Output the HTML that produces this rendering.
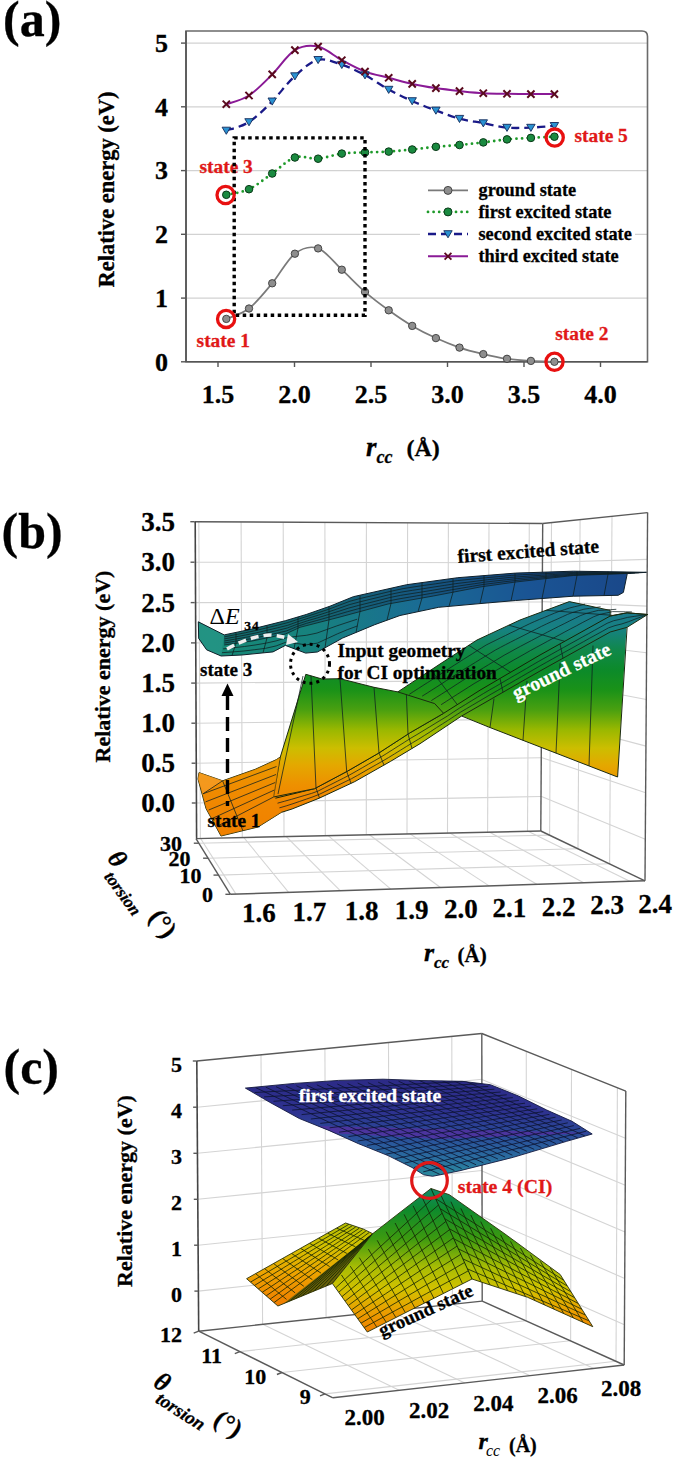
<!DOCTYPE html>
<html><head><meta charset="utf-8"><style>
html,body{margin:0;padding:0;background:#fff;}
svg{display:block;}
text{paint-order:stroke;}
</style></head><body>
<svg width="675" height="1461" viewBox="0 0 675 1461">
<rect width="675" height="1461" fill="#fff"/>
<g id="pa">
<text x="3" y="36" font-family="Liberation Serif" font-weight="bold" font-size="50" stroke="#000" stroke-width="0.3">(a)</text>
<line x1="187" y1="298.1" x2="647" y2="298.1" stroke="#d2d2d2" stroke-width="1.3"/>
<line x1="187" y1="234.3" x2="647" y2="234.3" stroke="#d2d2d2" stroke-width="1.3"/>
<line x1="187" y1="170.6" x2="647" y2="170.6" stroke="#d2d2d2" stroke-width="1.3"/>
<line x1="187" y1="106.8" x2="647" y2="106.8" stroke="#d2d2d2" stroke-width="1.3"/>
<line x1="187" y1="43.1" x2="647" y2="43.1" stroke="#d2d2d2" stroke-width="1.3"/>
<path d="M186,361.8 L186,31 L642,31 Q647.5,31 647.5,36.5 L647.5,361.8 Z" fill="none" stroke="#6a6a6a" stroke-width="1.6"/>
<line x1="186" y1="31" x2="186" y2="362" stroke="#555" stroke-width="1.6"/>
<line x1="186" y1="361.8" x2="647.5" y2="361.8" stroke="#555" stroke-width="1.6"/>
<line x1="181" y1="361.8" x2="186" y2="361.8" stroke="#555" stroke-width="1.4"/>
<text x="168" y="370.6" font-family="Liberation Serif" font-weight="bold" font-size="26" text-anchor="end" stroke="#000" stroke-width="0.3">0</text>
<line x1="181" y1="298.1" x2="186" y2="298.1" stroke="#555" stroke-width="1.4"/>
<text x="168" y="306.9" font-family="Liberation Serif" font-weight="bold" font-size="26" text-anchor="end" stroke="#000" stroke-width="0.3">1</text>
<line x1="181" y1="234.3" x2="186" y2="234.3" stroke="#555" stroke-width="1.4"/>
<text x="168" y="243.1" font-family="Liberation Serif" font-weight="bold" font-size="26" text-anchor="end" stroke="#000" stroke-width="0.3">2</text>
<line x1="181" y1="170.6" x2="186" y2="170.6" stroke="#555" stroke-width="1.4"/>
<text x="168" y="179.4" font-family="Liberation Serif" font-weight="bold" font-size="26" text-anchor="end" stroke="#000" stroke-width="0.3">3</text>
<line x1="181" y1="106.8" x2="186" y2="106.8" stroke="#555" stroke-width="1.4"/>
<text x="168" y="115.6" font-family="Liberation Serif" font-weight="bold" font-size="26" text-anchor="end" stroke="#000" stroke-width="0.3">4</text>
<line x1="181" y1="43.1" x2="186" y2="43.1" stroke="#555" stroke-width="1.4"/>
<text x="168" y="51.9" font-family="Liberation Serif" font-weight="bold" font-size="26" text-anchor="end" stroke="#000" stroke-width="0.3">5</text>
<line x1="218.0" y1="362" x2="218.0" y2="367" stroke="#555" stroke-width="1.4"/>
<text x="218.0" y="403" font-family="Liberation Serif" font-weight="bold" font-size="26" text-anchor="middle" stroke="#000" stroke-width="0.3">1.5</text>
<line x1="294.5" y1="362" x2="294.5" y2="367" stroke="#555" stroke-width="1.4"/>
<text x="294.5" y="403" font-family="Liberation Serif" font-weight="bold" font-size="26" text-anchor="middle" stroke="#000" stroke-width="0.3">2.0</text>
<line x1="371.0" y1="362" x2="371.0" y2="367" stroke="#555" stroke-width="1.4"/>
<text x="371.0" y="403" font-family="Liberation Serif" font-weight="bold" font-size="26" text-anchor="middle" stroke="#000" stroke-width="0.3">2.5</text>
<line x1="447.5" y1="362" x2="447.5" y2="367" stroke="#555" stroke-width="1.4"/>
<text x="447.5" y="403" font-family="Liberation Serif" font-weight="bold" font-size="26" text-anchor="middle" stroke="#000" stroke-width="0.3">3.0</text>
<line x1="524.0" y1="362" x2="524.0" y2="367" stroke="#555" stroke-width="1.4"/>
<text x="524.0" y="403" font-family="Liberation Serif" font-weight="bold" font-size="26" text-anchor="middle" stroke="#000" stroke-width="0.3">3.5</text>
<line x1="600.5" y1="362" x2="600.5" y2="367" stroke="#555" stroke-width="1.4"/>
<text x="600.5" y="403" font-family="Liberation Serif" font-weight="bold" font-size="26" text-anchor="middle" stroke="#000" stroke-width="0.3">4.0</text>
<text transform="translate(114,189.5) rotate(-90)" font-family="Liberation Serif" font-weight="bold" font-size="22.5" text-anchor="middle" stroke="#000" stroke-width="0.3">Relative energy (eV)</text>
<text x="366" y="455.5" font-family="Liberation Serif" font-weight="bold" font-style="italic" font-size="27" stroke="#000" stroke-width="0.3">r</text>
<text x="376.5" y="463" font-family="Liberation Serif" font-weight="bold" font-style="italic" font-size="18" stroke="#000" stroke-width="0.3">cc</text>
<text x="406.5" y="455.5" font-family="Liberation Serif" font-weight="bold" font-size="24" stroke="#000" stroke-width="0.3">(Å)</text>
<text x="199.5" y="172.5" font-family="Liberation Serif" font-weight="bold" font-size="19.4" fill="#e01818" stroke="#e01818" stroke-width="0.3">state 3</text>
<path d="M226.3,318.9 C230.1,317.2 241.3,314.4 249.0,308.5 C256.6,302.6 264.6,292.4 272.2,283.3 C279.8,274.2 287.2,259.5 294.9,253.7 C302.5,247.9 310.3,245.7 318.1,248.4 C325.9,251.1 334.0,262.4 341.8,269.7 C349.6,276.9 357.2,285.1 365.0,291.9 C372.8,298.7 380.8,304.6 388.7,310.3 C396.6,316.0 404.3,321.3 412.2,325.9 C420.1,330.5 428.0,334.5 435.9,338.1 C443.8,341.7 451.6,344.9 459.5,347.6 C467.4,350.3 475.4,352.2 483.3,354.1 C491.2,356.0 499.1,357.7 507.0,358.8 C514.9,359.9 523.0,360.4 530.9,360.9 C538.8,361.4 550.5,361.6 554.4,361.8" fill="none" stroke="#7a7a7a" stroke-width="1.7"/>
<path d="M226.3,194.8 C230.1,193.9 241.3,192.8 249.0,189.2 C256.6,185.6 264.6,178.8 272.2,173.5 C279.8,168.2 287.2,160.0 294.9,157.5 C302.5,155.0 310.3,159.3 318.1,158.7 C325.9,158.0 334.0,154.6 341.8,153.6 C349.6,152.6 357.2,152.7 365.0,152.4 C372.8,152.1 380.8,152.1 388.7,151.6 C396.6,151.1 404.3,150.3 412.2,149.5 C420.1,148.7 428.0,147.6 435.9,146.8 C443.8,146.1 451.6,145.7 459.5,145.0 C467.4,144.3 475.4,143.3 483.3,142.4 C491.2,141.5 499.1,140.2 507.0,139.4 C514.9,138.7 523.0,138.4 530.9,137.9 C538.8,137.4 550.5,136.9 554.4,136.7" fill="none" stroke="#1e9a2a" stroke-width="2.8" stroke-dasharray="0,5.6" stroke-linecap="round"/>
<path d="M226.3,130.5 C230.1,129.1 241.3,126.9 249.0,122.0 C256.6,117.1 264.6,109.0 272.2,101.3 C279.8,93.6 287.2,83.0 294.9,76.1 C302.5,69.2 310.3,61.7 318.1,59.8 C325.9,57.9 334.0,62.2 341.8,64.7 C349.6,67.2 357.2,70.9 365.0,75.1 C372.8,79.2 380.8,85.3 388.7,89.6 C396.6,93.9 404.3,97.5 412.2,101.0 C420.1,104.5 428.0,107.5 435.9,110.4 C443.8,113.4 451.6,116.6 459.5,118.7 C467.4,120.8 475.4,121.6 483.3,123.1 C491.2,124.6 499.1,126.8 507.0,127.6 C514.9,128.3 523.0,127.9 530.9,127.6 C538.8,127.3 550.5,126.1 554.4,125.8" fill="none" stroke="#1a1a88" stroke-width="2.3" stroke-dasharray="8,5"/>
<path d="M226.3,104.2 C230.1,102.8 241.3,100.5 249.0,95.5 C256.6,90.5 264.6,82.0 272.2,74.4 C279.8,66.8 287.2,54.7 294.9,50.1 C302.5,45.5 310.3,44.9 318.1,46.6 C325.9,48.3 334.0,56.0 341.8,60.2 C349.6,64.4 357.2,68.7 365.0,71.6 C372.8,74.5 380.8,75.8 388.7,77.8 C396.6,79.8 404.3,82.2 412.2,83.9 C420.1,85.6 428.0,86.9 435.9,88.1 C443.8,89.3 451.6,90.2 459.5,91.1 C467.4,91.9 475.4,92.8 483.3,93.2 C491.2,93.7 499.1,93.7 507.0,93.8 C514.9,93.9 523.0,94.0 530.9,94.1 C538.8,94.1 550.5,94.1 554.4,94.1" fill="none" stroke="#8a1a96" stroke-width="2"/>
<circle cx="226.3" cy="318.9" r="3.7" fill="#8e8e8e" stroke="#3a3a3a" stroke-width="0.9"/>
<circle cx="249.0" cy="308.5" r="3.7" fill="#8e8e8e" stroke="#3a3a3a" stroke-width="0.9"/>
<circle cx="272.2" cy="283.3" r="3.7" fill="#8e8e8e" stroke="#3a3a3a" stroke-width="0.9"/>
<circle cx="294.9" cy="253.7" r="3.7" fill="#8e8e8e" stroke="#3a3a3a" stroke-width="0.9"/>
<circle cx="318.1" cy="248.4" r="3.7" fill="#8e8e8e" stroke="#3a3a3a" stroke-width="0.9"/>
<circle cx="341.8" cy="269.7" r="3.7" fill="#8e8e8e" stroke="#3a3a3a" stroke-width="0.9"/>
<circle cx="365.0" cy="291.9" r="3.7" fill="#8e8e8e" stroke="#3a3a3a" stroke-width="0.9"/>
<circle cx="388.7" cy="310.3" r="3.7" fill="#8e8e8e" stroke="#3a3a3a" stroke-width="0.9"/>
<circle cx="412.2" cy="325.9" r="3.7" fill="#8e8e8e" stroke="#3a3a3a" stroke-width="0.9"/>
<circle cx="435.9" cy="338.1" r="3.7" fill="#8e8e8e" stroke="#3a3a3a" stroke-width="0.9"/>
<circle cx="459.5" cy="347.6" r="3.7" fill="#8e8e8e" stroke="#3a3a3a" stroke-width="0.9"/>
<circle cx="483.3" cy="354.1" r="3.7" fill="#8e8e8e" stroke="#3a3a3a" stroke-width="0.9"/>
<circle cx="507.0" cy="358.8" r="3.7" fill="#8e8e8e" stroke="#3a3a3a" stroke-width="0.9"/>
<circle cx="530.9" cy="360.9" r="3.7" fill="#8e8e8e" stroke="#3a3a3a" stroke-width="0.9"/>
<circle cx="554.4" cy="361.8" r="3.7" fill="#8e8e8e" stroke="#3a3a3a" stroke-width="0.9"/>
<circle cx="226.3" cy="194.8" r="3.8" fill="#1a8a40" stroke="#0a3a18" stroke-width="1"/>
<circle cx="249.0" cy="189.2" r="3.8" fill="#1a8a40" stroke="#0a3a18" stroke-width="1"/>
<circle cx="272.2" cy="173.5" r="3.8" fill="#1a8a40" stroke="#0a3a18" stroke-width="1"/>
<circle cx="294.9" cy="157.5" r="3.8" fill="#1a8a40" stroke="#0a3a18" stroke-width="1"/>
<circle cx="318.1" cy="158.7" r="3.8" fill="#1a8a40" stroke="#0a3a18" stroke-width="1"/>
<circle cx="341.8" cy="153.6" r="3.8" fill="#1a8a40" stroke="#0a3a18" stroke-width="1"/>
<circle cx="365.0" cy="152.4" r="3.8" fill="#1a8a40" stroke="#0a3a18" stroke-width="1"/>
<circle cx="388.7" cy="151.6" r="3.8" fill="#1a8a40" stroke="#0a3a18" stroke-width="1"/>
<circle cx="412.2" cy="149.5" r="3.8" fill="#1a8a40" stroke="#0a3a18" stroke-width="1"/>
<circle cx="435.9" cy="146.8" r="3.8" fill="#1a8a40" stroke="#0a3a18" stroke-width="1"/>
<circle cx="459.5" cy="145.0" r="3.8" fill="#1a8a40" stroke="#0a3a18" stroke-width="1"/>
<circle cx="483.3" cy="142.4" r="3.8" fill="#1a8a40" stroke="#0a3a18" stroke-width="1"/>
<circle cx="507.0" cy="139.4" r="3.8" fill="#1a8a40" stroke="#0a3a18" stroke-width="1"/>
<circle cx="530.9" cy="137.9" r="3.8" fill="#1a8a40" stroke="#0a3a18" stroke-width="1"/>
<circle cx="554.4" cy="136.7" r="3.8" fill="#1a8a40" stroke="#0a3a18" stroke-width="1"/>
<path d="M222.1,127.2 L230.5,127.2 L226.3,134.3 Z" fill="#2a92d2" stroke="#142a5a" stroke-width="0.9"/>
<path d="M244.8,118.7 L253.2,118.7 L249.0,125.8 Z" fill="#2a92d2" stroke="#142a5a" stroke-width="0.9"/>
<path d="M268.0,98.0 L276.4,98.0 L272.2,105.1 Z" fill="#2a92d2" stroke="#142a5a" stroke-width="0.9"/>
<path d="M290.7,72.8 L299.1,72.8 L294.9,79.9 Z" fill="#2a92d2" stroke="#142a5a" stroke-width="0.9"/>
<path d="M313.9,56.5 L322.3,56.5 L318.1,63.6 Z" fill="#2a92d2" stroke="#142a5a" stroke-width="0.9"/>
<path d="M337.6,61.4 L346.0,61.4 L341.8,68.5 Z" fill="#2a92d2" stroke="#142a5a" stroke-width="0.9"/>
<path d="M360.8,71.8 L369.2,71.8 L365.0,78.9 Z" fill="#2a92d2" stroke="#142a5a" stroke-width="0.9"/>
<path d="M384.5,86.3 L392.9,86.3 L388.7,93.4 Z" fill="#2a92d2" stroke="#142a5a" stroke-width="0.9"/>
<path d="M408.0,97.7 L416.4,97.7 L412.2,104.8 Z" fill="#2a92d2" stroke="#142a5a" stroke-width="0.9"/>
<path d="M431.7,107.1 L440.1,107.1 L435.9,114.2 Z" fill="#2a92d2" stroke="#142a5a" stroke-width="0.9"/>
<path d="M455.3,115.4 L463.7,115.4 L459.5,122.5 Z" fill="#2a92d2" stroke="#142a5a" stroke-width="0.9"/>
<path d="M479.1,119.8 L487.5,119.8 L483.3,126.9 Z" fill="#2a92d2" stroke="#142a5a" stroke-width="0.9"/>
<path d="M502.8,124.3 L511.2,124.3 L507.0,131.4 Z" fill="#2a92d2" stroke="#142a5a" stroke-width="0.9"/>
<path d="M526.7,124.3 L535.1,124.3 L530.9,131.4 Z" fill="#2a92d2" stroke="#142a5a" stroke-width="0.9"/>
<path d="M550.2,122.5 L558.6,122.5 L554.4,129.6 Z" fill="#2a92d2" stroke="#142a5a" stroke-width="0.9"/>
<path d="M222.7,100.6 L229.9,107.8 M222.7,107.8 L229.9,100.6" stroke="#5a0a1e" stroke-width="2"/>
<path d="M245.4,91.9 L252.6,99.1 M245.4,99.1 L252.6,91.9" stroke="#5a0a1e" stroke-width="2"/>
<path d="M268.6,70.8 L275.8,78.0 M268.6,78.0 L275.8,70.8" stroke="#5a0a1e" stroke-width="2"/>
<path d="M291.3,46.5 L298.5,53.7 M291.3,53.7 L298.5,46.5" stroke="#5a0a1e" stroke-width="2"/>
<path d="M314.5,43.0 L321.7,50.2 M314.5,50.2 L321.7,43.0" stroke="#5a0a1e" stroke-width="2"/>
<path d="M338.2,56.6 L345.4,63.8 M338.2,63.8 L345.4,56.6" stroke="#5a0a1e" stroke-width="2"/>
<path d="M361.4,68.0 L368.6,75.2 M361.4,75.2 L368.6,68.0" stroke="#5a0a1e" stroke-width="2"/>
<path d="M385.1,74.2 L392.3,81.4 M385.1,81.4 L392.3,74.2" stroke="#5a0a1e" stroke-width="2"/>
<path d="M408.6,80.3 L415.8,87.5 M408.6,87.5 L415.8,80.3" stroke="#5a0a1e" stroke-width="2"/>
<path d="M432.3,84.5 L439.5,91.7 M432.3,91.7 L439.5,84.5" stroke="#5a0a1e" stroke-width="2"/>
<path d="M455.9,87.5 L463.1,94.7 M455.9,94.7 L463.1,87.5" stroke="#5a0a1e" stroke-width="2"/>
<path d="M479.7,89.6 L486.9,96.8 M479.7,96.8 L486.9,89.6" stroke="#5a0a1e" stroke-width="2"/>
<path d="M503.4,90.2 L510.6,97.4 M503.4,97.4 L510.6,90.2" stroke="#5a0a1e" stroke-width="2"/>
<path d="M527.3,90.5 L534.5,97.7 M527.3,97.7 L534.5,90.5" stroke="#5a0a1e" stroke-width="2"/>
<path d="M550.8,90.5 L558.0,97.7 M550.8,97.7 L558.0,90.5" stroke="#5a0a1e" stroke-width="2"/>
<rect x="234.2" y="137.9" width="130.8" height="177.4" fill="none" stroke="#000" stroke-width="3.4" stroke-dasharray="3.5,3.5"/>
<rect x="420" y="178" width="215" height="90" fill="#fff"/>
<line x1="428" y1="190.4" x2="468" y2="190.4" stroke="#7a7a7a" stroke-width="1.7"/>
<circle cx="448" cy="190.4" r="4" fill="#8e8e8e" stroke="#3a3a3a" stroke-width="0.9"/>
<line x1="428" y1="211.9" x2="468" y2="211.9" stroke="#1e9a2a" stroke-width="2.8" stroke-dasharray="0,5.6" stroke-linecap="round"/>
<circle cx="448" cy="211.9" r="4" fill="#1a8a40" stroke="#0a3a18" stroke-width="1"/>
<line x1="428" y1="234.0" x2="468" y2="234.0" stroke="#1a1a88" stroke-width="2.3" stroke-dasharray="8,5"/>
<path d="M443.8,230.7 L452.2,230.7 L448.0,237.8 Z" fill="#2a92d2" stroke="#142a5a" stroke-width="0.9"/>
<line x1="428" y1="256.3" x2="468" y2="256.3" stroke="#8a1a96" stroke-width="2"/>
<path d="M444.6,252.9 L451.4,259.7 M444.6,259.7 L451.4,252.9" stroke="#5a0a1e" stroke-width="1.8"/>
<text x="478.5" y="196.2" font-family="Liberation Serif" font-weight="bold" font-size="18.3" stroke="#000" stroke-width="0.3">ground state</text>
<text x="478.5" y="217.7" font-family="Liberation Serif" font-weight="bold" font-size="18.3" stroke="#000" stroke-width="0.3">first excited state</text>
<text x="478.5" y="239.8" font-family="Liberation Serif" font-weight="bold" font-size="18.3" stroke="#000" stroke-width="0.3">second excited state</text>
<text x="478.5" y="262.1" font-family="Liberation Serif" font-weight="bold" font-size="18.3" stroke="#000" stroke-width="0.3">third excited state</text>
<circle cx="225.6" cy="195.0" r="8.6" fill="none" stroke="#e81010" stroke-width="3.3"/>
<circle cx="226.1" cy="318.9" r="8.6" fill="none" stroke="#e81010" stroke-width="3.3"/>
<circle cx="554.7" cy="137.6" r="8.6" fill="none" stroke="#e81010" stroke-width="3.3"/>
<circle cx="554.5" cy="361.8" r="8.6" fill="none" stroke="#e81010" stroke-width="3.3"/>
<text x="574.5" y="141.5" font-family="Liberation Serif" font-weight="bold" font-size="19.4" fill="#e01818" stroke="#e01818" stroke-width="0.3">state 5</text>
<text x="196.6" y="347.4" font-family="Liberation Serif" font-weight="bold" font-size="19.4" fill="#e01818" stroke="#e01818" stroke-width="0.3">state 1</text>
<text x="555.2" y="340" font-family="Liberation Serif" font-weight="bold" font-size="19.4" fill="#e01818" stroke="#e01818" stroke-width="0.3">state 2</text>
</g>
<g id="pb">
<text x="1.5" y="547.6" font-family="Liberation Serif" font-weight="bold" font-size="50" stroke="#000" stroke-width="0.3">(b)</text>
<line x1="200.4" y1="838.5" x2="198.8" y2="521.7" stroke="#d4d4d4" stroke-width="1.1"/>
<line x1="242.3" y1="837.6" x2="241.1" y2="521.9" stroke="#d4d4d4" stroke-width="1.1"/>
<line x1="284.0" y1="836.7" x2="283.2" y2="522.2" stroke="#d4d4d4" stroke-width="1.1"/>
<line x1="325.3" y1="835.8" x2="324.9" y2="522.4" stroke="#d4d4d4" stroke-width="1.1"/>
<line x1="366.3" y1="834.8" x2="366.4" y2="522.6" stroke="#d4d4d4" stroke-width="1.1"/>
<line x1="407.0" y1="833.9" x2="407.6" y2="522.8" stroke="#d4d4d4" stroke-width="1.1"/>
<line x1="447.5" y1="833.1" x2="448.4" y2="523.0" stroke="#d4d4d4" stroke-width="1.1"/>
<line x1="487.6" y1="832.2" x2="489.0" y2="523.2" stroke="#d4d4d4" stroke-width="1.1"/>
<line x1="527.5" y1="831.3" x2="529.3" y2="523.4" stroke="#d4d4d4" stroke-width="1.1"/>
<line x1="195.8" y1="803.0" x2="541.0" y2="796.5" stroke="#d4d4d4" stroke-width="1.1"/>
<line x1="541.0" y1="796.3" x2="645.3" y2="839.2" stroke="#d4d4d4" stroke-width="1.1"/>
<line x1="195.6" y1="763.2" x2="541.3" y2="757.8" stroke="#d4d4d4" stroke-width="1.1"/>
<line x1="541.3" y1="757.4" x2="645.6" y2="792.7" stroke="#d4d4d4" stroke-width="1.1"/>
<line x1="195.4" y1="723.2" x2="541.5" y2="719.0" stroke="#d4d4d4" stroke-width="1.1"/>
<line x1="541.5" y1="718.5" x2="646.0" y2="746.1" stroke="#d4d4d4" stroke-width="1.1"/>
<line x1="195.2" y1="683.1" x2="541.7" y2="680.1" stroke="#d4d4d4" stroke-width="1.1"/>
<line x1="541.7" y1="679.5" x2="646.3" y2="699.5" stroke="#d4d4d4" stroke-width="1.1"/>
<line x1="195.0" y1="642.9" x2="542.0" y2="641.1" stroke="#d4d4d4" stroke-width="1.1"/>
<line x1="542.0" y1="640.5" x2="646.6" y2="652.8" stroke="#d4d4d4" stroke-width="1.1"/>
<line x1="194.7" y1="602.6" x2="542.2" y2="602.0" stroke="#d4d4d4" stroke-width="1.1"/>
<line x1="542.2" y1="601.6" x2="646.9" y2="606.1" stroke="#d4d4d4" stroke-width="1.1"/>
<line x1="194.5" y1="562.2" x2="542.5" y2="562.8" stroke="#d4d4d4" stroke-width="1.1"/>
<line x1="542.5" y1="562.5" x2="647.3" y2="559.4" stroke="#d4d4d4" stroke-width="1.1"/>
<line x1="549.6" y1="835.2" x2="551.5" y2="522.6" stroke="#d4d4d4" stroke-width="1.1"/>
<line x1="578.0" y1="848.8" x2="580.1" y2="519.6" stroke="#d4d4d4" stroke-width="1.1"/>
<line x1="609.6" y1="863.9" x2="612.0" y2="516.3" stroke="#d4d4d4" stroke-width="1.1"/>
<line x1="200.6" y1="838.5" x2="236.0" y2="894.1" stroke="#d4d4d4" stroke-width="1.1"/>
<line x1="243.8" y1="837.5" x2="288.6" y2="892.4" stroke="#d4d4d4" stroke-width="1.1"/>
<line x1="286.3" y1="836.6" x2="340.2" y2="890.7" stroke="#d4d4d4" stroke-width="1.1"/>
<line x1="328.2" y1="835.7" x2="390.8" y2="889.1" stroke="#d4d4d4" stroke-width="1.1"/>
<line x1="369.4" y1="834.8" x2="440.4" y2="887.5" stroke="#d4d4d4" stroke-width="1.1"/>
<line x1="410.0" y1="833.9" x2="489.1" y2="885.9" stroke="#d4d4d4" stroke-width="1.1"/>
<line x1="449.9" y1="833.0" x2="536.8" y2="884.3" stroke="#d4d4d4" stroke-width="1.1"/>
<line x1="489.2" y1="832.1" x2="583.7" y2="882.8" stroke="#d4d4d4" stroke-width="1.1"/>
<line x1="528.0" y1="831.3" x2="629.8" y2="881.3" stroke="#d4d4d4" stroke-width="1.1"/>
<line x1="198.8" y1="843.2" x2="549.5" y2="835.1" stroke="#d4d4d4" stroke-width="1.1"/>
<line x1="208.1" y1="858.2" x2="577.8" y2="848.7" stroke="#d4d4d4" stroke-width="1.1"/>
<line x1="218.5" y1="875.1" x2="609.4" y2="863.8" stroke="#d4d4d4" stroke-width="1.1"/>
<line x1="194.3" y1="521.7" x2="542.7" y2="523.5" stroke="#5a5a5a" stroke-width="1.4"/>
<line x1="542.7" y1="523.5" x2="647.6" y2="512.6" stroke="#5a5a5a" stroke-width="1.4"/>
<line x1="647.6" y1="512.6" x2="645.0" y2="880.8" stroke="#5a5a5a" stroke-width="1.4"/>
<line x1="542.7" y1="523.5" x2="540.8" y2="831.0" stroke="#5a5a5a" stroke-width="1.4"/>
<line x1="196.0" y1="838.6" x2="540.8" y2="831.0" stroke="#5a5a5a" stroke-width="1.4"/>
<line x1="540.8" y1="831.0" x2="645.0" y2="880.8" stroke="#5a5a5a" stroke-width="1.4"/>
<line x1="645.0" y1="880.8" x2="230.4" y2="894.3" stroke="#5a5a5a" stroke-width="1.4"/>
<line x1="230.4" y1="894.3" x2="196.0" y2="838.6" stroke="#5a5a5a" stroke-width="1.4"/>
<line x1="195.2" y1="521.7" x2="196.6" y2="838.6" stroke="#444" stroke-width="1.6"/>
<line x1="191.8" y1="803.0" x2="195.8" y2="803.0" stroke="#5a5a5a" stroke-width="1.4"/>
<text x="175" y="812.0" font-family="Liberation Serif" font-weight="bold" font-size="27" text-anchor="end" stroke="#000" stroke-width="0.3">0.0</text>
<line x1="191.6" y1="763.2" x2="195.6" y2="763.2" stroke="#5a5a5a" stroke-width="1.4"/>
<text x="175" y="772.2" font-family="Liberation Serif" font-weight="bold" font-size="27" text-anchor="end" stroke="#000" stroke-width="0.3">0.5</text>
<line x1="191.4" y1="723.2" x2="195.4" y2="723.2" stroke="#5a5a5a" stroke-width="1.4"/>
<text x="175" y="732.2" font-family="Liberation Serif" font-weight="bold" font-size="27" text-anchor="end" stroke="#000" stroke-width="0.3">1.0</text>
<line x1="191.2" y1="683.1" x2="195.2" y2="683.1" stroke="#5a5a5a" stroke-width="1.4"/>
<text x="175" y="692.1" font-family="Liberation Serif" font-weight="bold" font-size="27" text-anchor="end" stroke="#000" stroke-width="0.3">1.5</text>
<line x1="191.0" y1="642.9" x2="195.0" y2="642.9" stroke="#5a5a5a" stroke-width="1.4"/>
<text x="175" y="651.9" font-family="Liberation Serif" font-weight="bold" font-size="27" text-anchor="end" stroke="#000" stroke-width="0.3">2.0</text>
<line x1="190.7" y1="602.6" x2="194.7" y2="602.6" stroke="#5a5a5a" stroke-width="1.4"/>
<text x="175" y="611.6" font-family="Liberation Serif" font-weight="bold" font-size="27" text-anchor="end" stroke="#000" stroke-width="0.3">2.5</text>
<line x1="190.5" y1="562.2" x2="194.5" y2="562.2" stroke="#5a5a5a" stroke-width="1.4"/>
<text x="175" y="571.2" font-family="Liberation Serif" font-weight="bold" font-size="27" text-anchor="end" stroke="#000" stroke-width="0.3">3.0</text>
<line x1="190.3" y1="521.7" x2="194.3" y2="521.7" stroke="#5a5a5a" stroke-width="1.4"/>
<text x="175" y="530.7" font-family="Liberation Serif" font-weight="bold" font-size="27" text-anchor="end" stroke="#000" stroke-width="0.3">3.5</text>
<text transform="translate(110.3,666.5) rotate(-90)" font-family="Liberation Serif" font-weight="bold" font-size="22" text-anchor="middle" stroke="#000" stroke-width="0.3">Relative energy (eV)</text>
<line x1="193.8" y1="843.2" x2="198.8" y2="843.2" stroke="#5a5a5a" stroke-width="1.4"/>
<text x="182.0" y="850.7" font-family="Liberation Serif" font-weight="bold" font-size="22" text-anchor="end" stroke="#000" stroke-width="0.3">30</text>
<line x1="203.1" y1="858.2" x2="208.1" y2="858.2" stroke="#5a5a5a" stroke-width="1.4"/>
<text x="190.5" y="865.7" font-family="Liberation Serif" font-weight="bold" font-size="22" text-anchor="end" stroke="#000" stroke-width="0.3">20</text>
<line x1="213.5" y1="875.1" x2="218.5" y2="875.1" stroke="#5a5a5a" stroke-width="1.4"/>
<text x="201.5" y="882.6" font-family="Liberation Serif" font-weight="bold" font-size="22" text-anchor="end" stroke="#000" stroke-width="0.3">10</text>
<line x1="225.4" y1="894.3" x2="230.4" y2="894.3" stroke="#5a5a5a" stroke-width="1.4"/>
<text x="213.0" y="901.8" font-family="Liberation Serif" font-weight="bold" font-size="22" text-anchor="end" stroke="#000" stroke-width="0.3">0</text>
<text x="258.8" y="922.1" font-family="Liberation Serif" font-weight="bold" font-size="27" text-anchor="middle" stroke="#000" stroke-width="0.3">1.6</text>
<text x="309.3" y="921.3" font-family="Liberation Serif" font-weight="bold" font-size="27" text-anchor="middle" stroke="#000" stroke-width="0.3">1.7</text>
<text x="361.5" y="920.3" font-family="Liberation Serif" font-weight="bold" font-size="27" text-anchor="middle" stroke="#000" stroke-width="0.3">1.8</text>
<text x="411.7" y="919.0" font-family="Liberation Serif" font-weight="bold" font-size="27" text-anchor="middle" stroke="#000" stroke-width="0.3">1.9</text>
<text x="460.8" y="918.0" font-family="Liberation Serif" font-weight="bold" font-size="27" text-anchor="middle" stroke="#000" stroke-width="0.3">2.0</text>
<text x="509.4" y="917.0" font-family="Liberation Serif" font-weight="bold" font-size="27" text-anchor="middle" stroke="#000" stroke-width="0.3">2.1</text>
<text x="558.7" y="915.5" font-family="Liberation Serif" font-weight="bold" font-size="27" text-anchor="middle" stroke="#000" stroke-width="0.3">2.2</text>
<text x="607.2" y="914.0" font-family="Liberation Serif" font-weight="bold" font-size="27" text-anchor="middle" stroke="#000" stroke-width="0.3">2.3</text>
<text x="655.0" y="912.5" font-family="Liberation Serif" font-weight="bold" font-size="27" text-anchor="middle" stroke="#000" stroke-width="0.3">2.4</text>
<text x="424" y="961" font-family="Liberation Serif" font-weight="bold" font-style="italic" font-size="26" stroke="#000" stroke-width="0.3">r</text>
<text x="434" y="967.5" font-family="Liberation Serif" font-weight="bold" font-style="italic" font-size="17" stroke="#000" stroke-width="0.3">cc</text>
<text x="457.5" y="962" font-family="Liberation Serif" font-weight="bold" font-size="21" stroke="#000" stroke-width="0.3">(Å)</text>
<g transform="translate(106.5,858.5) rotate(54)"><text x="0" y="0" font-family="Liberation Serif" font-weight="bold" font-style="italic" font-size="26" stroke="#000" stroke-width="0.3">θ</text><text x="13" y="13" font-family="Liberation Serif" font-weight="bold" font-style="italic" font-size="17.3" stroke="#000" stroke-width="0.3">torsion</text><text x="72" y="1" font-family="Liberation Serif" font-weight="bold" font-size="26" stroke="#000" stroke-width="0.3">(°)</text></g>
<defs>
<linearGradient id="gbU" gradientUnits="userSpaceOnUse" x1="200" y1="650" x2="640" y2="575">
<stop offset="0" stop-color="#168a74"/><stop offset="0.25" stop-color="#17827e"/><stop offset="0.5" stop-color="#1a6c94"/><stop offset="0.75" stop-color="#1a5494"/><stop offset="1" stop-color="#1a4688"/>
</linearGradient>
<linearGradient id="gbG" gradientUnits="userSpaceOnUse" x1="0" y1="600" x2="0" y2="835">
<stop offset="0" stop-color="#1a7890"/><stop offset="0.064" stop-color="#1a7a8a"/><stop offset="0.128" stop-color="#168280"/><stop offset="0.213" stop-color="#10884a"/>
<stop offset="0.298" stop-color="#0c8a2a"/><stop offset="0.383" stop-color="#1a9218"/><stop offset="0.468" stop-color="#4aa010"/><stop offset="0.553" stop-color="#9ab800"/>
<stop offset="0.63" stop-color="#ccbe00"/><stop offset="0.702" stop-color="#e4a800"/><stop offset="0.787" stop-color="#ee9000"/><stop offset="0.894" stop-color="#f08000"/><stop offset="1" stop-color="#f07400"/>
</linearGradient>
<linearGradient id="gbB" gradientUnits="userSpaceOnUse" x1="230" y1="800" x2="640" y2="600">
<stop offset="0" stop-color="#f07800"/><stop offset="0.14" stop-color="#f08400"/><stop offset="0.25" stop-color="#e6a200"/><stop offset="0.33" stop-color="#ceb600"/>
<stop offset="0.39" stop-color="#a8b800"/><stop offset="0.5" stop-color="#4a9a10"/><stop offset="0.61" stop-color="#1a8a2a"/><stop offset="0.72" stop-color="#108a50"/><stop offset="0.81" stop-color="#1a8a7a"/><stop offset="0.9" stop-color="#1a8090"/><stop offset="1" stop-color="#1a7a98"/>
</linearGradient>
<linearGradient id="gbT" gradientUnits="userSpaceOnUse" x1="0" y1="620" x2="0" y2="778">
<stop offset="0" stop-color="#1a8a8a"/><stop offset="0.25" stop-color="#0e8a4a"/><stop offset="0.44" stop-color="#0c8a1c"/><stop offset="0.63" stop-color="#5aa80a"/><stop offset="0.76" stop-color="#c8be00"/><stop offset="0.88" stop-color="#e0a800"/><stop offset="1" stop-color="#e88c00"/>
</linearGradient>
</defs>
<polygon points="198.3,621.8 224.2,634.9 252.2,629.0 285.4,620.7 306.2,614.5 330.0,606.2 353.3,596.7 406.7,584.7 457.8,577.7 515.6,573.1 573.3,571.2 646.5,572.3 627.3,573.5 623.4,592.4 618.2,595.3 573.3,596.2 515.6,600.5 480.0,603.6 438.7,607.3 400.0,615.5 374.7,624.7 342.7,638.0 317.4,652.0 305.6,653.1 285.4,645.4 273.0,651.9 241.9,655.0 221.1,656.0 206.6,649.8 198.7,638.4" fill="url(#gbU)"/>
<polygon points="198.3,621.8 224.2,634.9 221.1,656.0 206.6,649.8 198.7,638.4" fill="#2c9a8c" opacity="0.6"/>
<polygon points="224.2,634.9 252.2,629.0 285.4,620.7 306.2,614.5 330.0,606.2 353.3,596.7 406.7,584.7 457.8,577.7 515.6,573.1 573.3,571.2 646.5,572.3 627.3,573.5 573.3,575.5 515.6,582.0 480.0,587.0 433.3,596.0 388.0,604.0 340.0,617.0 300.0,627.3 285.4,634.0 252.2,641.0 224.2,645.0" fill="#0a2050" opacity="0.28"/>
<path d="M224.2,636.9 L234.9,634.8 L245.6,632.7 L256.3,630.4 L266.9,627.8 L277.6,625.2 L288.1,622.5 L298.5,619.1 L308.9,615.8 L319.3,612.4 L329.7,608.9 L339.9,605.0 L350.1,601.2 L360.6,598.4 L371.3,595.9 L381.9,593.4 L392.5,590.9 L403.2,588.6 L414.0,586.9 L424.8,585.3 L435.6,583.8 L446.5,582.2 L457.3,580.6 L468.1,579.5 L479.0,578.4 L489.9,577.4 L500.8,576.4 L511.6,575.4 L522.5,574.7 L533.4,574.2 L544.4,573.7 L555.3,573.1 L566.2,572.6 L577.1,572.4 L588.0,572.3 L598.9,572.3 L609.9,572.4 L620.8,572.4 L631.7,572.5 L642.7,572.5" fill="none" stroke="#0f1f1f" stroke-width="0.9" stroke-opacity="0.85"/>
<path d="M224.2,638.9 L234.8,637.0 L245.5,635.0 L256.1,632.9 L266.6,630.4 L277.2,627.9 L287.7,625.3 L297.9,621.6 L308.1,618.3 L318.5,615.1 L328.8,611.8 L339.0,608.3 L349.2,604.7 L359.7,601.9 L370.2,599.3 L380.7,596.8 L391.2,594.2 L401.8,592.0 L412.5,590.3 L423.2,588.7 L433.9,587.0 L444.6,585.4 L455.3,583.7 L466.1,582.4 L476.8,581.1 L487.5,579.7 L498.3,578.6 L509.1,577.5 L519.9,576.7 L530.7,576.0 L541.5,575.3 L552.3,574.6 L563.1,573.9 L573.9,573.4 L584.7,573.1 L595.5,573.0 L606.3,572.9 L617.2,572.9 L628.0,572.8 L638.8,572.8" fill="none" stroke="#0f1f1f" stroke-width="0.9" stroke-opacity="0.85"/>
<path d="M224.2,641.0 L234.8,639.2 L245.4,637.4 L255.9,635.4 L266.4,633.0 L276.8,630.6 L287.2,628.0 L297.2,624.2 L307.4,620.8 L317.7,617.8 L327.9,614.7 L338.1,611.5 L348.3,608.2 L358.7,605.4 L369.1,602.8 L379.5,600.2 L389.9,597.5 L400.4,595.4 L411.0,593.7 L421.6,592.0 L432.2,590.3 L442.8,588.5 L453.4,586.8 L464.0,585.2 L474.6,583.7 L485.2,582.1 L495.9,580.9 L506.5,579.7 L517.2,578.6 L527.9,577.7 L538.6,576.9 L549.3,576.0 L559.9,575.2 L570.6,574.4 L581.3,573.9 L592.1,573.7 L602.8,573.5 L613.5,573.4 L624.3,573.2 L635.0,573.0" fill="none" stroke="#0f1f1f" stroke-width="0.9" stroke-opacity="0.85"/>
<path d="M224.2,643.0 L234.7,641.3 L245.2,639.7 L255.7,637.8 L266.1,635.6 L276.4,633.3 L286.8,630.8 L296.5,626.7 L306.6,623.3 L316.8,620.5 L327.1,617.6 L337.3,614.7 L347.5,611.7 L357.7,608.9 L368.0,606.2 L378.3,603.6 L388.6,600.9 L399.0,598.9 L409.5,597.1 L420.0,595.3 L430.5,593.5 L441.0,591.7 L451.4,589.8 L461.9,588.1 L472.4,586.3 L482.9,584.5 L493.4,583.2 L504.0,581.8 L514.5,580.6 L525.1,579.5 L535.7,578.5 L546.2,577.4 L556.8,576.4 L567.4,575.5 L578.0,574.7 L588.6,574.4 L599.3,574.1 L609.9,573.8 L620.5,573.5 L631.1,573.3" fill="none" stroke="#0f1f1f" stroke-width="0.9" stroke-opacity="0.85"/>
<path d="M224.2,645.0 L252.2,641.0 L285.4,634.0 L300.0,627.3 L340.0,617.0 L388.0,604.0 L433.3,596.0 L480.0,587.0 L515.6,582.0 L573.3,575.5 L627.3,573.5" fill="none" stroke="#0f1f1f" stroke-width="0.9" stroke-opacity="0.85"/>
<path d="M223.1,648.9 L233.8,647.7 L244.5,646.5 L255.1,645.0 L265.7,643.2 L276.1,640.9 L286.3,637.8 L296.1,636.4 L306.3,635.3 L316.8,633.1 L326.8,629.5 L336.8,625.9 L347.0,622.5 L357.2,619.2" fill="none" stroke="#0f1f1f" stroke-width="0.9" stroke-opacity="0.85" stroke-opacity="0.5"/>
<path d="M222.0,652.7 L233.0,651.9 L243.9,651.0 L254.8,649.7 L265.6,648.3 L276.2,645.9 L286.2,642.1 L296.4,643.5 L306.7,644.8 L317.5,643.1 L327.4,638.5 L337.3,633.9 L347.3,629.7 L357.6,625.9" fill="none" stroke="#0f1f1f" stroke-width="0.9" stroke-opacity="0.85" stroke-opacity="0.5"/>
<line x1="236.0" y1="632.4" x2="236.0" y2="643.3" fill="none" stroke="#0f1f1f" stroke-width="0.9" stroke-opacity="0.85"/>
<line x1="236.0" y1="643.3" x2="232.0" y2="655.5" fill="none" stroke="#0f1f1f" stroke-width="0.9" stroke-opacity="0.85"/>
<line x1="267.0" y1="625.3" x2="267.0" y2="637.9" fill="none" stroke="#0f1f1f" stroke-width="0.9" stroke-opacity="0.85"/>
<line x1="267.0" y1="637.9" x2="263.0" y2="652.9" fill="none" stroke="#0f1f1f" stroke-width="0.9" stroke-opacity="0.85"/>
<line x1="298.0" y1="616.9" x2="298.0" y2="628.2" fill="none" stroke="#0f1f1f" stroke-width="0.9" stroke-opacity="0.85"/>
<line x1="298.0" y1="628.2" x2="294.0" y2="648.7" fill="none" stroke="#0f1f1f" stroke-width="0.9" stroke-opacity="0.85"/>
<line x1="329.0" y1="606.5" x2="329.0" y2="619.8" fill="none" stroke="#0f1f1f" stroke-width="0.9" stroke-opacity="0.85"/>
<line x1="329.0" y1="619.8" x2="325.0" y2="647.8" fill="none" stroke="#0f1f1f" stroke-width="0.9" stroke-opacity="0.85"/>
<line x1="360.0" y1="595.2" x2="360.0" y2="611.6" fill="none" stroke="#0f1f1f" stroke-width="0.9" stroke-opacity="0.85"/>
<line x1="360.0" y1="611.6" x2="356.0" y2="632.5" fill="none" stroke="#0f1f1f" stroke-width="0.9" stroke-opacity="0.85"/>
<line x1="391.0" y1="588.2" x2="391.0" y2="603.5" fill="none" stroke="#0f1f1f" stroke-width="0.9" stroke-opacity="0.85"/>
<line x1="391.0" y1="603.5" x2="387.0" y2="620.2" fill="none" stroke="#0f1f1f" stroke-width="0.9" stroke-opacity="0.85"/>
<line x1="422.0" y1="582.6" x2="422.0" y2="598.0" fill="none" stroke="#0f1f1f" stroke-width="0.9" stroke-opacity="0.85"/>
<line x1="422.0" y1="598.0" x2="418.0" y2="611.7" fill="none" stroke="#0f1f1f" stroke-width="0.9" stroke-opacity="0.85"/>
<line x1="453.0" y1="578.4" x2="453.0" y2="592.2" fill="none" stroke="#0f1f1f" stroke-width="0.9" stroke-opacity="0.85"/>
<line x1="453.0" y1="592.2" x2="449.0" y2="606.4" fill="none" stroke="#0f1f1f" stroke-width="0.9" stroke-opacity="0.85"/>
<line x1="484.0" y1="575.6" x2="484.0" y2="586.4" fill="none" stroke="#0f1f1f" stroke-width="0.9" stroke-opacity="0.85"/>
<line x1="484.0" y1="586.4" x2="480.0" y2="603.6" fill="none" stroke="#0f1f1f" stroke-width="0.9" stroke-opacity="0.85"/>
<line x1="515.0" y1="573.1" x2="515.0" y2="582.1" fill="none" stroke="#0f1f1f" stroke-width="0.9" stroke-opacity="0.85"/>
<line x1="515.0" y1="582.1" x2="511.0" y2="600.9" fill="none" stroke="#0f1f1f" stroke-width="0.9" stroke-opacity="0.85"/>
<line x1="546.0" y1="572.1" x2="546.0" y2="578.6" fill="none" stroke="#0f1f1f" stroke-width="0.9" stroke-opacity="0.85"/>
<line x1="546.0" y1="578.6" x2="542.0" y2="598.5" fill="none" stroke="#0f1f1f" stroke-width="0.9" stroke-opacity="0.85"/>
<line x1="577.0" y1="571.3" x2="577.0" y2="575.4" fill="none" stroke="#0f1f1f" stroke-width="0.9" stroke-opacity="0.85"/>
<line x1="577.0" y1="575.4" x2="573.0" y2="596.2" fill="none" stroke="#0f1f1f" stroke-width="0.9" stroke-opacity="0.85"/>
<line x1="608.0" y1="571.7" x2="608.0" y2="574.2" fill="none" stroke="#0f1f1f" stroke-width="0.9" stroke-opacity="0.85"/>
<line x1="608.0" y1="574.2" x2="604.0" y2="595.6" fill="none" stroke="#0f1f1f" stroke-width="0.9" stroke-opacity="0.85"/>
<polygon points="198.3,621.8 224.2,634.9 252.2,629.0 285.4,620.7 306.2,614.5 330.0,606.2 353.3,596.7 406.7,584.7 457.8,577.7 515.6,573.1 573.3,571.2 646.5,572.3 627.3,573.5 623.4,592.4 618.2,595.3 573.3,596.2 515.6,600.5 480.0,603.6 438.7,607.3 400.0,615.5 374.7,624.7 342.7,638.0 317.4,652.0 305.6,653.1 285.4,645.4 273.0,651.9 241.9,655.0 221.1,656.0 206.6,649.8 198.7,638.4" fill="none" stroke="#10202a" stroke-width="1"/>
<polygon points="455.0,713.0 540.0,664.0 627.1,618.0 617.6,777.0 488.6,727.0" fill="url(#gbG)"/>
<line x1="494.0" y1="698.6" x2="490.0" y2="727.5" fill="none" stroke="#0f1f1f" stroke-width="0.9" stroke-opacity="0.85"/>
<line x1="527.0" y1="680.9" x2="523.0" y2="740.3" fill="none" stroke="#0f1f1f" stroke-width="0.9" stroke-opacity="0.85"/>
<line x1="560.0" y1="663.3" x2="556.0" y2="753.1" fill="none" stroke="#0f1f1f" stroke-width="0.9" stroke-opacity="0.85"/>
<line x1="593.0" y1="645.6" x2="589.0" y2="765.9" fill="none" stroke="#0f1f1f" stroke-width="0.9" stroke-opacity="0.85"/>
<polyline points="627.1,627.3 617.6,777.0 488.6,727.0 461.6,716.0" fill="none" stroke="#1a2a10" stroke-width="1"/>
<polygon points="198.0,779.0 206.0,808.5 221.0,836.0 258.0,827.0 281.3,812.4 292.0,809.0 319.2,798.2 354.8,781.6 390.3,761.5 420.0,743.7 461.6,716.0 540.0,671.0 610.2,632.0 627.1,627.3 647.6,614.5 627.1,612.8 610.2,616.0 610.2,610.4 569.3,601.6 520.0,620.0 477.0,640.0 440.0,664.0 397.8,691.9 370.0,707.0 340.0,724.0 310.0,741.0 280.3,757.0 276.4,759.6 255.2,769.3 222.6,780.8 199.0,772.6" fill="url(#gbG)"/>
<path d="M441.1,704.7 L446.6,701.2 L452.1,697.6 L457.6,694.1 L463.1,690.6 L468.6,687.1 L474.1,683.6 L479.8,680.3 L485.4,676.9 L491.0,673.6 L496.6,670.2 L502.2,666.9 L507.8,663.5 L513.4,660.2 L519.1,657.0 L524.8,653.8 L530.5,650.5 L536.2,647.4 L542.0,644.3 L547.7,641.2 L553.4,638.1 L559.2,635.0 L564.9,631.9 L570.7,628.8 L576.5,625.8 L582.2,622.7 L588.0,619.7 L593.8,616.7 L599.8,614.4 L606.2,613.0 L612.6,611.6 L619.0,611.7 L625.5,611.8 L631.9,611.9" fill="none" stroke="#0f1f1f" stroke-width="0.9" stroke-opacity="0.85"/>
<path d="M431.3,700.6 L436.5,697.3 L441.7,694.0 L446.9,690.7 L452.0,687.4 L457.2,684.0 L462.4,680.7 L467.6,677.4 L472.8,674.2 L478.1,671.1 L483.3,667.9 L488.6,664.7 L493.8,661.5 L499.1,658.3 L504.4,655.1 L509.8,652.2 L515.1,649.2 L520.5,646.3 L526.0,643.4 L531.4,640.6 L536.9,637.7 L542.3,634.9 L547.7,632.0 L553.2,629.2 L558.7,626.4 L564.2,623.7 L569.7,620.9 L575.2,618.2 L580.7,615.5 L586.4,613.4 L592.3,611.9 L598.3,610.4 L604.3,610.1 L610.3,609.7 L616.3,609.3" fill="none" stroke="#0f1f1f" stroke-width="0.9" stroke-opacity="0.85"/>
<path d="M422.2,696.1 L427.1,693.1 L431.9,690.0 L436.8,686.9 L441.6,683.8 L446.4,680.6 L451.3,677.5 L456.1,674.4 L461.0,671.3 L465.9,668.2 L470.8,665.2 L475.7,662.2 L480.6,659.1 L485.5,656.1 L490.4,653.1 L495.3,650.1 L500.4,647.4 L505.5,644.7 L510.6,642.1 L515.7,639.5 L520.9,636.9 L526.0,634.3 L531.2,631.6 L536.3,629.0 L541.4,626.4 L546.6,623.9 L551.8,621.5 L557.1,619.2 L562.3,616.8 L567.5,614.4 L572.9,612.4 L578.4,610.8 L583.9,609.2 L589.5,608.4 L595.1,607.6 L600.6,606.8" fill="none" stroke="#0f1f1f" stroke-width="0.9" stroke-opacity="0.85"/>
<path d="M409.3,694.3 L413.8,691.4 L418.3,688.5 L422.8,685.6 L427.4,682.7 L431.9,679.8 L436.4,676.8 L440.9,673.9 L445.4,670.9 L449.9,668.0 L454.4,665.1 L459.0,662.2 L463.5,659.3 L468.0,656.5 L472.6,653.6 L477.1,650.7 L481.7,647.8 L486.2,645.0 L491.0,642.6 L495.9,640.2 L500.7,637.8 L505.5,635.5 L510.3,633.1 L515.2,630.8 L520.0,628.4 L524.8,626.1 L529.7,623.7 L534.6,621.5 L539.5,619.4 L544.5,617.4 L549.4,615.3 L554.4,613.2 L559.4,611.3 L564.5,609.7 L569.6,608.0 L574.7,606.7 L579.8,605.5 L585.0,604.2" fill="none" stroke="#0f1f1f" stroke-width="0.9" stroke-opacity="0.85"/>
<line x1="457.3" y1="704.6" x2="431.1" y2="669.9" fill="none" stroke="#0f1f1f" stroke-width="0.9" stroke-opacity="0.85"/>
<line x1="510.6" y1="672.3" x2="468.8" y2="645.3" fill="none" stroke="#0f1f1f" stroke-width="0.9" stroke-opacity="0.85"/>
<line x1="564.6" y1="641.3" x2="508.9" y2="625.2" fill="none" stroke="#0f1f1f" stroke-width="0.9" stroke-opacity="0.85"/>
<line x1="613.3" y1="615.4" x2="545.9" y2="610.3" fill="none" stroke="#0f1f1f" stroke-width="0.9" stroke-opacity="0.85"/>
<path d="M277.5,803.2 L284.3,801.3 L291.2,799.4 L298.0,797.4 L304.8,795.4 L311.6,793.4 L318.2,791.0 L324.6,787.7 L330.9,784.5 L337.2,781.3 L343.6,778.1 L349.9,774.8 L356.1,771.3 L362.2,767.8 L368.4,764.2 L374.6,760.7 L380.7,757.2 L386.8,753.4 L392.8,749.6 L398.8,745.8 L404.8,742.0 L410.8,738.2 L416.9,734.6 L423.0,730.9 L429.1,727.2 L435.1,723.5 L441.2,719.8 L447.3,716.1 L453.2,712.2 L459.2,708.3 L465.3,704.6 L471.3,700.9 L477.4,697.2 L483.5,693.5 L489.6,689.9 L495.8,686.4 L501.9,682.8 L508.1,679.2 L514.2,675.6 L520.3,672.1 L526.5,668.5 L532.6,664.9 L538.8,661.3 L545.0,657.8 L551.2,654.4 L557.4,650.9 L563.6,647.5 L569.8,644.0 L576.0,640.6 L582.3,637.1 L588.5,633.7 L594.7,630.2 L600.9,626.8 L607.1,623.3 L613.7,620.7 L620.6,619.2 L627.5,617.4 L634.2,616.4 L640.9,615.4 L647.6,614.5" fill="none" stroke="#0f1f1f" stroke-width="0.9" stroke-opacity="0.85"/>
<path d="M279.4,807.9 L286.2,805.9 L293.0,803.7 L299.7,801.4 L306.4,799.1 L313.0,796.8 L319.6,794.2 L326.0,791.1 L332.4,788.0 L338.8,784.9 L345.1,781.8 L351.5,778.7 L357.7,775.3 L363.9,771.7 L370.0,768.2 L376.2,764.7 L382.4,761.2 L388.5,757.6 L394.5,753.9 L400.5,750.2 L406.6,746.4 L412.6,742.7 L418.7,739.1 L424.7,735.3 L430.7,731.5 L436.6,727.6 L442.6,723.8 L448.6,720.0 L454.5,716.1 L460.5,712.2 L466.6,708.6 L472.7,705.0 L478.8,701.4 L484.9,697.8 L491.0,694.2 L497.2,690.7 L503.3,687.1 L509.4,683.6 L515.6,680.0 L521.7,676.5 L527.9,672.9 L534.0,669.4 L540.2,665.8 L546.3,662.4 L552.5,658.9 L558.7,655.5 L564.9,652.0 L571.1,648.6 L577.3,645.1 L583.5,641.7 L589.7,638.2 L595.9,634.8 L602.2,631.4 L608.4,627.9 L615.0,625.6 L621.9,623.9 L628.5,621.7 L634.9,619.2 L641.2,616.9 L647.6,614.5" fill="none" stroke="#0f1f1f" stroke-width="0.9" stroke-opacity="0.85"/>
<path d="M275.4,798.2 L314.5,788.7 L347.7,771.0 L378.5,753.2 L409.8,732.9 L443.6,713.3 L480.0,690.2 L540.0,655.0 L610.2,616.0 L627.1,612.8 L647.6,614.5" fill="none" stroke="#142408" stroke-width="1"/>
<polygon points="198.0,779.0 206.0,808.5 221.0,836.0 258.0,827.0 281.3,812.4 292.0,809.0 319.2,798.2 354.8,781.6 390.3,761.5 420.0,743.7 461.6,716.0 540.0,671.0 610.2,632.0 627.1,627.3 647.6,614.5 627.1,612.8 610.2,616.0 610.2,610.4 569.3,601.6 520.0,620.0 477.0,640.0 440.0,664.0 397.8,691.9 370.0,707.0 340.0,724.0 310.0,741.0 280.3,757.0 276.4,759.6 255.2,769.3 222.6,780.8 199.0,772.6" fill="none" stroke="#1a2a10" stroke-width="1"/>
<polygon points="273.5,797.0 280.3,757.0 305.8,674.3 322.0,679.0 340.0,678.7 374.0,687.3 397.8,691.9 434.7,703.6 443.6,713.3 409.8,732.9 378.5,753.2 347.7,771.0 314.5,788.7" fill="url(#gbG)"/>
<line x1="278" y1="794" x2="303" y2="676" fill="none" stroke="#0f1f1f" stroke-width="0.9" stroke-opacity="0.85"/>
<line x1="311.0" y1="675.8" x2="316.0" y2="787.9" fill="none" stroke="#0f1f1f" stroke-width="0.9" stroke-opacity="0.85"/>
<line x1="340.0" y1="678.7" x2="346.7" y2="771.5" fill="none" stroke="#0f1f1f" stroke-width="0.9" stroke-opacity="0.85"/>
<line x1="374.0" y1="687.3" x2="379.0" y2="752.9" fill="none" stroke="#0f1f1f" stroke-width="0.9" stroke-opacity="0.85"/>
<line x1="406.4" y1="694.6" x2="408.0" y2="734.1" fill="none" stroke="#0f1f1f" stroke-width="0.9" stroke-opacity="0.85"/>
<polygon points="273.5,797.0 280.3,757.0 305.8,674.3 322.0,679.0 340.0,678.7 374.0,687.3 397.8,691.9 434.7,703.6 443.6,713.3 409.8,732.9 378.5,753.2 347.7,771.0 314.5,788.7" fill="none" stroke="#1a2a10" stroke-width="1"/>
<line x1="316.0" y1="787.9" x2="319.5" y2="798.1" fill="none" stroke="#0f1f1f" stroke-width="0.9" stroke-opacity="0.85"/>
<line x1="346.7" y1="771.5" x2="351.0" y2="783.4" fill="none" stroke="#0f1f1f" stroke-width="0.9" stroke-opacity="0.85"/>
<line x1="379.0" y1="752.9" x2="384.0" y2="765.1" fill="none" stroke="#0f1f1f" stroke-width="0.9" stroke-opacity="0.85"/>
<line x1="408.0" y1="734.1" x2="412.0" y2="748.5" fill="none" stroke="#0f1f1f" stroke-width="0.9" stroke-opacity="0.85"/>
<line x1="500.0" y1="678.5" x2="503.0" y2="692.2" fill="none" stroke="#0f1f1f" stroke-width="0.9" stroke-opacity="0.85"/>
<line x1="560.0" y1="643.9" x2="563.0" y2="658.2" fill="none" stroke="#0f1f1f" stroke-width="0.9" stroke-opacity="0.85"/>
<polygon points="199,772.6 222.6,780.8 255.2,769.3 276.4,759.6 280.3,757 274,797 281.3,812.4 258,827 221,836 206,808.5 198,779" fill="#f08a00" opacity="0.55"/>
<polygon points="199,772.6 222.6,780.8 203,793.8 198,779" fill="#f6a030" opacity="0.6"/>
<line x1="203.0" y1="793.8" x2="276.5" y2="766.5" fill="none" stroke="#0f1f1f" stroke-width="0.9" stroke-opacity="0.85"/>
<line x1="205.5" y1="801.9" x2="276.0" y2="774.5" fill="none" stroke="#0f1f1f" stroke-width="0.9" stroke-opacity="0.85"/>
<line x1="208.7" y1="810.0" x2="275.2" y2="782.5" fill="none" stroke="#0f1f1f" stroke-width="0.9" stroke-opacity="0.85"/>
<line x1="212.8" y1="818.2" x2="274.4" y2="790.0" fill="none" stroke="#0f1f1f" stroke-width="0.9" stroke-opacity="0.85"/>
<line x1="216.9" y1="826.4" x2="273.6" y2="797.0" fill="none" stroke="#0f1f1f" stroke-width="0.9" stroke-opacity="0.85"/>
<line x1="222.6" y1="780.8" x2="243" y2="831" fill="none" stroke="#0f1f1f" stroke-width="0.9" stroke-opacity="0.85"/>
<line x1="222.6" y1="780.8" x2="203" y2="793.8" fill="none" stroke="#0f1f1f" stroke-width="0.9" stroke-opacity="0.85"/>
<text x="209.5" y="624.2" font-family="Liberation Serif" font-size="24">Δ<tspan font-style="italic">E</tspan></text>
<text x="244.3" y="630.2" font-family="Liberation Serif" font-weight="bold" font-size="13.5" letter-spacing="1" stroke="#000" stroke-width="0.3">34</text>
<path d="M227,649 Q250,636 270,635 Q285,636 294,641" fill="none" stroke="#eee" stroke-width="3.5" stroke-dasharray="8,5"/>
<path d="M288,634 L298,642 L286,645 Z" fill="#eee"/>
<circle cx="310" cy="663.8" r="19.5" fill="none" stroke="#000" stroke-width="3" stroke-dasharray="3,4"/>
<text x="337.5" y="656.5" font-family="Liberation Serif" font-weight="bold" font-size="19.3" stroke="#000" stroke-width="0.3">Input geometry</text>
<text x="337.5" y="678.5" font-family="Liberation Serif" font-weight="bold" font-size="19.3" stroke="#000" stroke-width="0.3">for CI optimization</text>
<text x="200" y="676" font-family="Liberation Serif" font-weight="bold" font-size="19" stroke="#000" stroke-width="0.3">state 3</text>
<text x="207.5" y="826.5" font-family="Liberation Serif" font-weight="bold" font-size="19.3" stroke="#000" stroke-width="0.3">state 1</text>
<line x1="227.5" y1="696" x2="227.5" y2="806" stroke="#000" stroke-width="3.4" stroke-dasharray="14,7"/>
<path d="M221.5,696 L227.5,683.5 L233.5,696 Z" fill="#000"/>
<text transform="translate(458,563) rotate(-4.3)" font-family="Liberation Serif" font-weight="bold" font-size="19.5" stroke="#000" stroke-width="0.3">first excited state</text>
<text transform="translate(516,700) rotate(-25.6)" font-family="Liberation Serif" font-weight="bold" font-size="20" fill="#fff" stroke="#fff" stroke-width="0.3">ground state</text>
</g>
<g id="pc">
<text x="3.5" y="1084.4" font-family="Liberation Serif" font-weight="bold" font-size="50" stroke="#000" stroke-width="0.3">(c)</text>
<line x1="262.6" y1="1324.4" x2="261.0" y2="1054.8" stroke="#d4d4d4" stroke-width="1.1"/>
<line x1="263.2" y1="1324.4" x2="399.2" y2="1390.3" stroke="#d4d4d4" stroke-width="1.1"/>
<line x1="326.1" y1="1317.7" x2="324.9" y2="1048.6" stroke="#d4d4d4" stroke-width="1.1"/>
<line x1="327.0" y1="1317.6" x2="464.8" y2="1383.0" stroke="#d4d4d4" stroke-width="1.1"/>
<line x1="389.4" y1="1311.0" x2="388.5" y2="1042.5" stroke="#d4d4d4" stroke-width="1.1"/>
<line x1="390.2" y1="1310.9" x2="529.7" y2="1375.6" stroke="#d4d4d4" stroke-width="1.1"/>
<line x1="452.4" y1="1304.3" x2="451.8" y2="1036.4" stroke="#d4d4d4" stroke-width="1.1"/>
<line x1="452.7" y1="1304.2" x2="593.9" y2="1368.4" stroke="#d4d4d4" stroke-width="1.1"/>
<line x1="198.4" y1="1291.1" x2="482.1" y2="1261.4" stroke="#d4d4d4" stroke-width="1.1"/>
<line x1="482.1" y1="1261.7" x2="624.4" y2="1324.7" stroke="#d4d4d4" stroke-width="1.1"/>
<line x1="198.1" y1="1245.2" x2="482.1" y2="1216.0" stroke="#d4d4d4" stroke-width="1.1"/>
<line x1="482.1" y1="1216.5" x2="624.7" y2="1278.4" stroke="#d4d4d4" stroke-width="1.1"/>
<line x1="197.8" y1="1199.3" x2="482.0" y2="1170.5" stroke="#d4d4d4" stroke-width="1.1"/>
<line x1="482.0" y1="1171.0" x2="625.0" y2="1231.9" stroke="#d4d4d4" stroke-width="1.1"/>
<line x1="197.4" y1="1153.3" x2="481.9" y2="1124.9" stroke="#d4d4d4" stroke-width="1.1"/>
<line x1="481.9" y1="1125.4" x2="625.3" y2="1185.2" stroke="#d4d4d4" stroke-width="1.1"/>
<line x1="197.1" y1="1107.2" x2="481.9" y2="1079.2" stroke="#d4d4d4" stroke-width="1.1"/>
<line x1="481.9" y1="1079.6" x2="625.5" y2="1138.3" stroke="#d4d4d4" stroke-width="1.1"/>
<line x1="526.1" y1="1320.8" x2="526.3" y2="1051.3" stroke="#d4d4d4" stroke-width="1.1"/>
<line x1="239.8" y1="1351.6" x2="525.7" y2="1320.7" stroke="#d4d4d4" stroke-width="1.1"/>
<line x1="570.6" y1="1340.9" x2="571.5" y2="1069.4" stroke="#d4d4d4" stroke-width="1.1"/>
<line x1="281.9" y1="1372.5" x2="570.3" y2="1340.7" stroke="#d4d4d4" stroke-width="1.1"/>
<line x1="616.0" y1="1361.3" x2="617.4" y2="1087.8" stroke="#d4d4d4" stroke-width="1.1"/>
<line x1="325.0" y1="1393.9" x2="615.9" y2="1361.3" stroke="#d4d4d4" stroke-width="1.1"/>
<line x1="196.8" y1="1061.0" x2="481.8" y2="1033.5" stroke="#5a5a5a" stroke-width="1.4"/>
<line x1="481.8" y1="1033.5" x2="625.8" y2="1091.1" stroke="#5a5a5a" stroke-width="1.4"/>
<line x1="625.8" y1="1091.1" x2="624.2" y2="1365.0" stroke="#5a5a5a" stroke-width="1.4"/>
<line x1="481.8" y1="1033.5" x2="482.2" y2="1301.1" stroke="#5a5a5a" stroke-width="1.4"/>
<line x1="198.7" y1="1331.2" x2="482.2" y2="1301.1" stroke="#5a5a5a" stroke-width="1.4"/>
<line x1="482.2" y1="1301.1" x2="624.2" y2="1365.0" stroke="#5a5a5a" stroke-width="1.4"/>
<line x1="624.2" y1="1365.0" x2="332.9" y2="1397.8" stroke="#5a5a5a" stroke-width="1.4"/>
<line x1="332.9" y1="1397.8" x2="198.7" y2="1331.2" stroke="#5a5a5a" stroke-width="1.4"/>
<line x1="196.8" y1="1061.0" x2="198.7" y2="1331.2" stroke="#444" stroke-width="1.6"/>
<line x1="194.4" y1="1291.1" x2="198.4" y2="1291.1" stroke="#5a5a5a" stroke-width="1.4"/>
<text x="182" y="1302.1" font-family="Liberation Serif" font-weight="bold" font-size="22" text-anchor="end" stroke="#000" stroke-width="0.3">0</text>
<line x1="194.1" y1="1245.2" x2="198.1" y2="1245.2" stroke="#5a5a5a" stroke-width="1.4"/>
<text x="182" y="1256.2" font-family="Liberation Serif" font-weight="bold" font-size="22" text-anchor="end" stroke="#000" stroke-width="0.3">1</text>
<line x1="193.8" y1="1199.3" x2="197.8" y2="1199.3" stroke="#5a5a5a" stroke-width="1.4"/>
<text x="182" y="1210.3" font-family="Liberation Serif" font-weight="bold" font-size="22" text-anchor="end" stroke="#000" stroke-width="0.3">2</text>
<line x1="193.4" y1="1153.3" x2="197.4" y2="1153.3" stroke="#5a5a5a" stroke-width="1.4"/>
<text x="182" y="1164.3" font-family="Liberation Serif" font-weight="bold" font-size="22" text-anchor="end" stroke="#000" stroke-width="0.3">3</text>
<line x1="193.1" y1="1107.2" x2="197.1" y2="1107.2" stroke="#5a5a5a" stroke-width="1.4"/>
<text x="182" y="1118.2" font-family="Liberation Serif" font-weight="bold" font-size="22" text-anchor="end" stroke="#000" stroke-width="0.3">4</text>
<line x1="192.8" y1="1061.0" x2="196.8" y2="1061.0" stroke="#5a5a5a" stroke-width="1.4"/>
<text x="182" y="1072.0" font-family="Liberation Serif" font-weight="bold" font-size="22" text-anchor="end" stroke="#000" stroke-width="0.3">5</text>
<text transform="translate(132.2,1191) rotate(-90)" font-family="Liberation Serif" font-weight="bold" font-size="22" text-anchor="middle" stroke="#000" stroke-width="0.3">Relative energy (eV)</text>
<line x1="193.7" y1="1333.2" x2="198.7" y2="1331.2" stroke="#5a5a5a" stroke-width="1.4"/>
<text x="182.0" y="1342.0" font-family="Liberation Serif" font-weight="bold" font-size="22" text-anchor="end" stroke="#000" stroke-width="0.3">12</text>
<line x1="234.8" y1="1353.6" x2="239.8" y2="1351.6" stroke="#5a5a5a" stroke-width="1.4"/>
<text x="222.0" y="1363.0" font-family="Liberation Serif" font-weight="bold" font-size="22" text-anchor="end" stroke="#000" stroke-width="0.3">11</text>
<line x1="276.9" y1="1374.5" x2="281.9" y2="1372.5" stroke="#5a5a5a" stroke-width="1.4"/>
<text x="266.3" y="1383.7" font-family="Liberation Serif" font-weight="bold" font-size="22" text-anchor="end" stroke="#000" stroke-width="0.3">10</text>
<line x1="320.0" y1="1395.9" x2="325.0" y2="1393.9" stroke="#5a5a5a" stroke-width="1.4"/>
<text x="310.7" y="1404.4" font-family="Liberation Serif" font-weight="bold" font-size="22" text-anchor="end" stroke="#000" stroke-width="0.3">9</text>
<text x="364.5" y="1424.5" font-family="Liberation Serif" font-weight="bold" font-size="23" text-anchor="middle" stroke="#000" stroke-width="0.3">2.00</text>
<text x="429.0" y="1418.0" font-family="Liberation Serif" font-weight="bold" font-size="23" text-anchor="middle" stroke="#000" stroke-width="0.3">2.02</text>
<text x="493.3" y="1410.5" font-family="Liberation Serif" font-weight="bold" font-size="23" text-anchor="middle" stroke="#000" stroke-width="0.3">2.04</text>
<text x="557.5" y="1402.5" font-family="Liberation Serif" font-weight="bold" font-size="23" text-anchor="middle" stroke="#000" stroke-width="0.3">2.06</text>
<text x="621.2" y="1395.5" font-family="Liberation Serif" font-weight="bold" font-size="23" text-anchor="middle" stroke="#000" stroke-width="0.3">2.08</text>
<text x="478.5" y="1449" font-family="Liberation Serif" font-weight="bold" font-style="italic" font-size="24" stroke="#000" stroke-width="0.3">r</text>
<text x="486" y="1456" font-family="Liberation Serif" font-style="italic" font-size="16">cc</text>
<text x="509" y="1452" font-family="Liberation Serif" font-weight="bold" font-size="20" stroke="#000" stroke-width="0.3">(Å)</text>
<g transform="translate(152.1,1385.4) rotate(33)"><text x="0" y="0" font-family="Liberation Serif" font-weight="bold" font-style="italic" font-size="26" stroke="#000" stroke-width="0.3">θ</text><text x="11" y="12.3" font-family="Liberation Serif" font-weight="bold" font-style="italic" font-size="18.8" stroke="#000" stroke-width="0.3">torsion</text><text x="71" y="-0.8" font-family="Liberation Serif" font-weight="bold" font-size="26" stroke="#000" stroke-width="0.3">(°)</text></g>
<defs>
<linearGradient id="gcU" gradientUnits="userSpaceOnUse" x1="0" y1="1078" x2="0" y2="1176">
<stop offset="0" stop-color="#2c2a86"/><stop offset="0.35" stop-color="#2e3290"/><stop offset="0.6" stop-color="#2a4e9a"/><stop offset="0.85" stop-color="#2a72a0"/><stop offset="1" stop-color="#2a8a9c"/>
</linearGradient>
<linearGradient id="gcG" gradientUnits="userSpaceOnUse" x1="0" y1="1188" x2="0" y2="1332">
<stop offset="0" stop-color="#108a6a"/><stop offset="0.15" stop-color="#0e8a2c"/><stop offset="0.35" stop-color="#3c9a10"/>
<stop offset="0.55" stop-color="#a8bc04"/><stop offset="0.7" stop-color="#d2c200"/><stop offset="0.85" stop-color="#eaa000"/><stop offset="1" stop-color="#f08000"/>
</linearGradient>
<linearGradient id="gcW" gradientUnits="userSpaceOnUse" x1="0" y1="1222" x2="0" y2="1306">
<stop offset="0" stop-color="#b4be02"/><stop offset="0.3" stop-color="#d4c000"/><stop offset="0.6" stop-color="#eca400"/><stop offset="1" stop-color="#f07c00"/>
</linearGradient>
</defs>
<clipPath id="cuclip"><polygon points="245.4,1088.1 294.3,1083.4 338.7,1080.4 383.1,1079.2 420.0,1080.5 462.2,1081.3 490.4,1084.7 518.5,1096.0 546.7,1110.0 572.0,1121.3 592.2,1134.0 566.7,1141.3 540.0,1149.3 513.3,1157.3 486.7,1164.0 460.0,1170.7 432.6,1176.3 423.7,1174.8 411.9,1167.4 388.1,1155.6 358.5,1143.7 328.9,1130.4 299.3,1118.5 269.6,1102.2"/></clipPath>
<polygon points="245.4,1088.1 294.3,1083.4 338.7,1080.4 383.1,1079.2 420.0,1080.5 462.2,1081.3 490.4,1084.7 518.5,1096.0 546.7,1110.0 572.0,1121.3 592.2,1134.0 566.7,1141.3 540.0,1149.3 513.3,1157.3 486.7,1164.0 460.0,1170.7 432.6,1176.3 423.7,1174.8 411.9,1167.4 388.1,1155.6 358.5,1143.7 328.9,1130.4 299.3,1118.5 269.6,1102.2" fill="url(#gcU)"/>
<g clip-path="url(#cuclip)">
<polygon points="318,1126 440,1129 592,1133 440,1139 328,1133" fill="#5530a0" opacity="0.8"/>
<path d="M255.6,1087.6 L274.0,1096.3 L292.5,1105.0 L310.9,1113.7 L329.3,1122.3 L347.7,1131.0 L366.2,1139.7 L384.6,1148.4 L403.0,1157.0 L421.4,1165.7 L439.9,1174.4" fill="none" stroke="#0c1430" stroke-width="0.9" stroke-opacity="0.9"/>
<path d="M265.8,1087.2 L283.9,1095.7 L302.1,1104.2 L320.2,1112.8 L338.3,1121.3 L356.5,1129.8 L374.6,1138.3 L392.7,1146.9 L410.9,1155.4 L429.0,1163.9 L447.1,1172.5" fill="none" stroke="#0c1430" stroke-width="0.9" stroke-opacity="0.9"/>
<path d="M276.0,1086.7 L293.9,1095.1 L311.7,1103.5 L329.5,1111.9 L347.4,1120.2 L365.2,1128.6 L383.0,1137.0 L400.9,1145.4 L418.7,1153.8 L436.5,1162.2 L454.4,1170.5" fill="none" stroke="#0c1430" stroke-width="0.9" stroke-opacity="0.9"/>
<path d="M286.2,1086.3 L303.8,1094.5 L321.3,1102.7 L338.9,1111.0 L356.4,1119.2 L373.9,1127.4 L391.5,1135.7 L409.0,1143.9 L426.5,1152.1 L444.1,1160.4 L461.6,1168.6" fill="none" stroke="#0c1430" stroke-width="0.9" stroke-opacity="0.9"/>
<path d="M296.4,1085.8 L313.7,1093.9 L330.9,1102.0 L348.2,1110.1 L365.4,1118.2 L382.7,1126.2 L399.9,1134.3 L417.1,1142.4 L434.4,1150.5 L451.6,1158.6 L468.9,1166.7" fill="none" stroke="#0c1430" stroke-width="0.9" stroke-opacity="0.9"/>
<path d="M306.7,1085.3 L323.6,1093.3 L340.5,1101.2 L357.5,1109.2 L374.4,1117.1 L391.4,1125.1 L408.3,1133.0 L425.3,1140.9 L442.2,1148.9 L459.2,1156.8 L476.1,1164.8" fill="none" stroke="#0c1430" stroke-width="0.9" stroke-opacity="0.9"/>
<path d="M316.9,1084.9 L333.5,1092.7 L350.2,1100.5 L366.8,1108.3 L383.5,1116.1 L400.1,1123.9 L416.8,1131.7 L433.4,1139.5 L450.1,1147.2 L466.7,1155.0 L483.4,1162.8" fill="none" stroke="#0c1430" stroke-width="0.9" stroke-opacity="0.9"/>
<path d="M327.1,1084.4 L343.4,1092.1 L359.8,1099.7 L376.1,1107.4 L392.5,1115.0 L408.9,1122.7 L425.2,1130.3 L441.6,1138.0 L457.9,1145.6 L474.3,1153.3 L490.6,1160.9" fill="none" stroke="#0c1430" stroke-width="0.9" stroke-opacity="0.9"/>
<path d="M337.3,1084.0 L353.3,1091.5 L369.4,1099.0 L385.5,1106.5 L401.5,1114.0 L417.6,1121.5 L433.6,1129.0 L449.7,1136.5 L465.8,1144.0 L481.8,1151.5 L497.9,1159.0" fill="none" stroke="#0c1430" stroke-width="0.9" stroke-opacity="0.9"/>
<path d="M347.5,1083.5 L363.3,1090.9 L379.0,1098.2 L394.8,1105.6 L410.6,1112.9 L426.3,1120.3 L442.1,1127.6 L457.8,1135.0 L473.6,1142.4 L489.4,1149.7 L505.1,1157.1" fill="none" stroke="#0c1430" stroke-width="0.9" stroke-opacity="0.9"/>
<path d="M357.7,1083.0 L373.2,1090.3 L388.6,1097.5 L404.1,1104.7 L419.6,1111.9 L435.0,1119.1 L450.5,1126.3 L466.0,1133.5 L481.5,1140.7 L496.9,1147.9 L512.4,1155.2" fill="none" stroke="#0c1430" stroke-width="0.9" stroke-opacity="0.9"/>
<path d="M367.9,1082.6 L383.1,1089.7 L398.3,1096.7 L413.4,1103.8 L428.6,1110.8 L443.8,1117.9 L459.0,1125.0 L474.1,1132.0 L489.3,1139.1 L504.5,1146.2 L519.7,1153.2" fill="none" stroke="#0c1430" stroke-width="0.9" stroke-opacity="0.9"/>
<path d="M378.1,1082.1 L393.0,1089.0 L407.9,1096.0 L422.8,1102.9 L437.6,1109.8 L452.5,1116.7 L467.4,1123.6 L482.3,1130.6 L497.2,1137.5 L512.0,1144.4 L526.9,1151.3" fill="none" stroke="#0c1430" stroke-width="0.9" stroke-opacity="0.9"/>
<path d="M388.3,1081.7 L402.9,1088.4 L417.5,1095.2 L432.1,1102.0 L446.7,1108.8 L461.2,1115.5 L475.8,1122.3 L490.4,1129.1 L505.0,1135.8 L519.6,1142.6 L534.2,1149.4" fill="none" stroke="#0c1430" stroke-width="0.9" stroke-opacity="0.9"/>
<path d="M398.5,1081.2 L412.8,1087.8 L427.1,1094.5 L441.4,1101.1 L455.7,1107.7 L470.0,1114.3 L484.3,1121.0 L498.6,1127.6 L512.8,1134.2 L527.1,1140.8 L541.4,1147.5" fill="none" stroke="#0c1430" stroke-width="0.9" stroke-opacity="0.9"/>
<path d="M408.7,1080.8 L422.7,1087.2 L436.7,1093.7 L450.7,1100.2 L464.7,1106.7 L478.7,1113.1 L492.7,1119.6 L506.7,1126.1 L520.7,1132.6 L534.7,1139.1 L548.7,1145.5" fill="none" stroke="#0c1430" stroke-width="0.9" stroke-opacity="0.9"/>
<path d="M419.0,1080.3 L432.7,1086.6 L446.3,1093.0 L460.0,1099.3 L473.7,1105.6 L487.4,1112.0 L501.1,1118.3 L514.8,1124.6 L528.5,1131.0 L542.2,1137.3 L555.9,1143.6" fill="none" stroke="#0c1430" stroke-width="0.9" stroke-opacity="0.9"/>
<path d="M429.2,1079.8 L442.6,1086.0 L456.0,1092.2 L469.4,1098.4 L482.8,1104.6 L496.2,1110.8 L509.6,1116.9 L523.0,1123.1 L536.4,1129.3 L549.8,1135.5 L563.2,1141.7" fill="none" stroke="#0c1430" stroke-width="0.9" stroke-opacity="0.9"/>
<path d="M439.4,1079.4 L452.5,1085.4 L465.6,1091.5 L478.7,1097.5 L491.8,1103.5 L504.9,1109.6 L518.0,1115.6 L531.1,1121.7 L544.2,1127.7 L557.3,1133.7 L570.4,1139.8" fill="none" stroke="#0c1430" stroke-width="0.9" stroke-opacity="0.9"/>
<path d="M449.6,1078.9 L462.4,1084.8 L475.2,1090.7 L488.0,1096.6 L500.8,1102.5 L513.6,1108.4 L526.4,1114.3 L539.3,1120.2 L552.1,1126.1 L564.9,1132.0 L577.7,1137.8" fill="none" stroke="#0c1430" stroke-width="0.9" stroke-opacity="0.9"/>
<path d="M459.8,1078.5 L472.3,1084.2 L484.8,1090.0 L497.3,1095.7 L509.9,1101.4 L522.4,1107.2 L534.9,1112.9 L547.4,1118.7 L559.9,1124.4 L572.4,1130.2 L584.9,1135.9" fill="none" stroke="#0c1430" stroke-width="0.9" stroke-opacity="0.9"/>
<path d="M254.8,1092.5 L276.9,1091.3 L299.0,1090.2 L321.2,1089.0 L343.3,1087.8 L365.4,1086.7 L387.6,1085.5 L409.7,1084.3 L431.8,1083.1 L454.0,1082.0 L476.1,1080.8" fill="none" stroke="#0c1430" stroke-width="0.9" stroke-opacity="0.9"/>
<path d="M264.1,1096.9 L285.9,1095.6 L307.7,1094.3 L329.6,1092.9 L351.4,1091.6 L373.2,1090.3 L395.0,1088.9 L416.8,1087.6 L438.6,1086.3 L460.4,1084.9 L482.2,1083.6" fill="none" stroke="#0c1430" stroke-width="0.9" stroke-opacity="0.9"/>
<path d="M273.5,1101.3 L295.0,1099.8 L316.4,1098.3 L337.9,1096.9 L359.4,1095.4 L380.9,1093.9 L402.4,1092.4 L423.9,1090.9 L445.4,1089.4 L466.8,1087.9 L488.3,1086.4" fill="none" stroke="#0c1430" stroke-width="0.9" stroke-opacity="0.9"/>
<path d="M282.8,1105.7 L304.0,1104.1 L325.2,1102.4 L346.3,1100.8 L367.5,1099.1 L388.6,1097.5 L409.8,1095.8 L431.0,1094.2 L452.1,1092.5 L473.3,1090.9 L494.4,1089.2" fill="none" stroke="#0c1430" stroke-width="0.9" stroke-opacity="0.9"/>
<path d="M292.2,1110.1 L313.0,1108.3 L333.9,1106.5 L354.7,1104.7 L375.5,1102.9 L396.4,1101.1 L417.2,1099.3 L438.0,1097.4 L458.9,1095.6 L479.7,1093.8 L500.6,1092.0" fill="none" stroke="#0c1430" stroke-width="0.9" stroke-opacity="0.9"/>
<path d="M301.6,1114.6 L322.1,1112.6 L342.6,1110.6 L363.1,1108.6 L383.6,1106.7 L404.1,1104.7 L424.6,1102.7 L445.1,1100.7 L465.6,1098.8 L486.2,1096.8 L506.7,1094.8" fill="none" stroke="#0c1430" stroke-width="0.9" stroke-opacity="0.9"/>
<path d="M310.9,1119.0 L331.1,1116.8 L351.3,1114.7 L371.5,1112.6 L391.7,1110.4 L411.8,1108.3 L432.0,1106.1 L452.2,1104.0 L472.4,1101.9 L492.6,1099.7 L512.8,1097.6" fill="none" stroke="#0c1430" stroke-width="0.9" stroke-opacity="0.9"/>
<path d="M320.3,1123.4 L340.1,1121.1 L360.0,1118.8 L379.9,1116.5 L399.7,1114.2 L419.6,1111.9 L439.4,1109.6 L459.3,1107.3 L479.2,1105.0 L499.0,1102.7 L518.9,1100.4" fill="none" stroke="#0c1430" stroke-width="0.9" stroke-opacity="0.9"/>
<path d="M329.6,1127.8 L349.2,1125.3 L368.7,1122.9 L388.2,1120.4 L407.8,1118.0 L427.3,1115.5 L446.9,1113.0 L466.4,1110.6 L485.9,1108.1 L505.5,1105.7 L525.0,1103.2" fill="none" stroke="#0c1430" stroke-width="0.9" stroke-opacity="0.9"/>
<path d="M339.0,1132.2 L358.2,1129.6 L377.4,1127.0 L396.6,1124.3 L415.8,1121.7 L435.0,1119.1 L454.3,1116.5 L473.5,1113.9 L492.7,1111.2 L511.9,1108.6 L531.1,1106.0" fill="none" stroke="#0c1430" stroke-width="0.9" stroke-opacity="0.9"/>
<path d="M348.4,1136.6 L367.2,1133.8 L386.1,1131.0 L405.0,1128.3 L423.9,1125.5 L442.8,1122.7 L461.7,1119.9 L480.6,1117.1 L499.4,1114.4 L518.3,1111.6 L537.2,1108.8" fill="none" stroke="#0c1430" stroke-width="0.9" stroke-opacity="0.9"/>
<path d="M357.7,1141.0 L376.3,1138.1 L394.8,1135.1 L413.4,1132.2 L432.0,1129.3 L450.5,1126.3 L469.1,1123.4 L487.6,1120.4 L506.2,1117.5 L524.8,1114.5 L543.3,1111.6" fill="none" stroke="#0c1430" stroke-width="0.9" stroke-opacity="0.9"/>
<path d="M367.1,1145.4 L385.3,1142.3 L403.6,1139.2 L421.8,1136.1 L440.0,1133.0 L458.3,1129.9 L476.5,1126.8 L494.7,1123.7 L513.0,1120.6 L531.2,1117.5 L549.4,1114.4" fill="none" stroke="#0c1430" stroke-width="0.9" stroke-opacity="0.9"/>
<path d="M376.4,1149.8 L394.4,1146.6 L412.3,1143.3 L430.2,1140.0 L448.1,1136.8 L466.0,1133.5 L483.9,1130.3 L501.8,1127.0 L519.7,1123.7 L537.6,1120.5 L555.5,1117.2" fill="none" stroke="#0c1430" stroke-width="0.9" stroke-opacity="0.9"/>
<path d="M385.8,1154.2 L403.4,1150.8 L421.0,1147.4 L438.6,1144.0 L456.1,1140.5 L473.7,1137.1 L491.3,1133.7 L508.9,1130.3 L526.5,1126.9 L544.1,1123.4 L561.7,1120.0" fill="none" stroke="#0c1430" stroke-width="0.9" stroke-opacity="0.9"/>
<path d="M395.2,1158.7 L412.4,1155.1 L429.7,1151.5 L446.9,1147.9 L464.2,1144.3 L481.5,1140.7 L498.7,1137.1 L516.0,1133.6 L533.2,1130.0 L550.5,1126.4 L567.8,1122.8" fill="none" stroke="#0c1430" stroke-width="0.9" stroke-opacity="0.9"/>
<path d="M404.5,1163.1 L421.5,1159.3 L438.4,1155.6 L455.3,1151.8 L472.3,1148.1 L489.2,1144.3 L506.1,1140.6 L523.1,1136.8 L540.0,1133.1 L556.9,1129.3 L573.9,1125.6" fill="none" stroke="#0c1430" stroke-width="0.9" stroke-opacity="0.9"/>
<path d="M413.9,1167.5 L430.5,1163.6 L447.1,1159.7 L463.7,1155.8 L480.3,1151.8 L496.9,1147.9 L513.5,1144.0 L530.2,1140.1 L546.8,1136.2 L563.4,1132.3 L580.0,1128.4" fill="none" stroke="#0c1430" stroke-width="0.9" stroke-opacity="0.9"/>
<path d="M423.2,1171.9 L439.5,1167.8 L455.8,1163.8 L472.1,1159.7 L488.4,1155.6 L504.7,1151.5 L521.0,1147.5 L537.2,1143.4 L553.5,1139.3 L569.8,1135.3 L586.1,1131.2" fill="none" stroke="#0c1430" stroke-width="0.9" stroke-opacity="0.9"/>
</g>
<polygon points="245.4,1088.1 294.3,1083.4 338.7,1080.4 383.1,1079.2 420.0,1080.5 462.2,1081.3 490.4,1084.7 518.5,1096.0 546.7,1110.0 572.0,1121.3 592.2,1134.0 566.7,1141.3 540.0,1149.3 513.3,1157.3 486.7,1164.0 460.0,1170.7 432.6,1176.3 423.7,1174.8 411.9,1167.4 388.1,1155.6 358.5,1143.7 328.9,1130.4 299.3,1118.5 269.6,1102.2" fill="none" stroke="#141a40" stroke-width="0.9"/>
<text x="298.7" y="1102" font-family="Liberation Serif" font-weight="bold" font-size="19.6" fill="#fff" stroke="#fff" stroke-width="0.3">first excited state</text>
<polygon points="246.6,1278.7 345.5,1223.0 363.2,1229.0 372.7,1233.7 332.4,1283.5 277.9,1306.0" fill="url(#gcW)"/>
<clipPath id="wclip"><polygon points="246.6,1278.7 345.5,1223.0 363.2,1229.0 372.7,1233.7 332.4,1283.5 277.9,1306.0"/></clipPath>
<g clip-path="url(#wclip)">
<path d="M255.6,1273.6 L258.7,1276.2 L261.8,1278.8 L264.9,1281.4 L268.0,1284.0 L271.1,1286.5 L274.1,1289.1 L277.2,1291.7 L280.3,1294.3 L283.4,1296.8 L286.5,1299.4" fill="none" stroke="#142406" stroke-width="0.9" stroke-opacity="0.9"/>
<path d="M264.6,1268.6 L267.6,1271.0 L270.7,1273.4 L273.7,1275.9 L276.8,1278.3 L279.9,1280.7 L282.9,1283.1 L286.0,1285.6 L289.0,1288.0 L292.1,1290.4 L295.1,1292.9" fill="none" stroke="#142406" stroke-width="0.9" stroke-opacity="0.9"/>
<path d="M273.6,1263.5 L276.6,1265.8 L279.6,1268.1 L282.6,1270.3 L285.6,1272.6 L288.7,1274.9 L291.7,1277.2 L294.7,1279.4 L297.7,1281.7 L300.7,1284.0 L303.8,1286.3" fill="none" stroke="#142406" stroke-width="0.9" stroke-opacity="0.9"/>
<path d="M282.6,1258.4 L285.5,1260.6 L288.5,1262.7 L291.5,1264.8 L294.5,1267.0 L297.5,1269.1 L300.4,1271.2 L303.4,1273.3 L306.4,1275.5 L309.4,1277.6 L312.4,1279.7" fill="none" stroke="#142406" stroke-width="0.9" stroke-opacity="0.9"/>
<path d="M291.6,1253.4 L294.5,1255.4 L297.4,1257.3 L300.4,1259.3 L303.3,1261.3 L306.3,1263.3 L309.2,1265.2 L312.2,1267.2 L315.1,1269.2 L318.0,1271.2 L321.0,1273.1" fill="none" stroke="#142406" stroke-width="0.9" stroke-opacity="0.9"/>
<path d="M300.5,1248.3 L303.5,1250.1 L306.4,1252.0 L309.3,1253.8 L312.2,1255.6 L315.1,1257.4 L318.0,1259.3 L320.9,1261.1 L323.8,1262.9 L326.7,1264.7 L329.6,1266.6" fill="none" stroke="#142406" stroke-width="0.9" stroke-opacity="0.9"/>
<path d="M309.5,1243.3 L312.4,1244.9 L315.3,1246.6 L318.1,1248.3 L321.0,1249.9 L323.9,1251.6 L326.8,1253.3 L329.6,1255.0 L332.5,1256.6 L335.4,1258.3 L338.2,1260.0" fill="none" stroke="#142406" stroke-width="0.9" stroke-opacity="0.9"/>
<path d="M318.5,1238.2 L321.4,1239.7 L324.2,1241.2 L327.0,1242.8 L329.9,1244.3 L332.7,1245.8 L335.5,1247.3 L338.4,1248.8 L341.2,1250.4 L344.0,1251.9 L346.8,1253.4" fill="none" stroke="#142406" stroke-width="0.9" stroke-opacity="0.9"/>
<path d="M327.5,1233.1 L330.3,1234.5 L333.1,1235.9 L335.9,1237.2 L338.7,1238.6 L341.5,1240.0 L344.3,1241.4 L347.1,1242.7 L349.9,1244.1 L352.7,1245.5 L355.5,1246.8" fill="none" stroke="#142406" stroke-width="0.9" stroke-opacity="0.9"/>
<path d="M336.5,1228.1 L339.3,1229.3 L342.0,1230.5 L344.8,1231.7 L347.5,1232.9 L350.3,1234.2 L353.1,1235.4 L355.8,1236.6 L358.6,1237.8 L361.3,1239.1 L364.1,1240.3" fill="none" stroke="#142406" stroke-width="0.9" stroke-opacity="0.9"/>
<path d="M250.5,1282.1 L260.4,1276.3 L270.2,1270.6 L280.0,1264.8 L289.9,1259.0 L299.7,1253.2 L309.5,1247.4 L319.4,1241.7 L329.2,1235.9 L339.1,1230.1 L348.9,1224.3" fill="none" stroke="#142406" stroke-width="0.9" stroke-opacity="0.9"/>
<path d="M254.4,1285.5 L264.2,1279.5 L274.0,1273.6 L283.8,1267.6 L293.6,1261.6 L303.4,1255.6 L313.1,1249.6 L322.9,1243.6 L332.7,1237.6 L342.5,1231.7 L352.3,1225.7" fill="none" stroke="#142406" stroke-width="0.9" stroke-opacity="0.9"/>
<path d="M258.3,1288.9 L268.1,1282.7 L277.8,1276.6 L287.5,1270.4 L297.3,1264.2 L307.0,1258.0 L316.8,1251.8 L326.5,1245.6 L336.2,1239.4 L346.0,1233.2 L355.7,1227.0" fill="none" stroke="#142406" stroke-width="0.9" stroke-opacity="0.9"/>
<path d="M262.2,1292.3 L271.9,1286.0 L281.6,1279.5 L291.3,1273.1 L301.0,1266.8 L310.7,1260.3 L320.4,1254.0 L330.0,1247.6 L339.7,1241.2 L349.4,1234.8 L359.1,1228.3" fill="none" stroke="#142406" stroke-width="0.9" stroke-opacity="0.9"/>
<path d="M266.2,1295.8 L275.8,1289.2 L285.4,1282.5 L295.1,1275.9 L304.7,1269.3 L314.3,1262.7 L324.0,1256.1 L333.6,1249.5 L343.2,1242.9 L352.9,1236.3 L362.5,1229.7" fill="none" stroke="#142406" stroke-width="0.9" stroke-opacity="0.9"/>
<path d="M270.1,1299.2 L279.7,1292.4 L289.2,1285.5 L298.8,1278.7 L308.4,1271.9 L318.0,1265.1 L327.6,1258.3 L337.2,1251.5 L346.7,1244.7 L356.3,1237.8 L365.9,1231.0" fill="none" stroke="#142406" stroke-width="0.9" stroke-opacity="0.9"/>
<path d="M274.0,1302.6 L283.5,1295.6 L293.1,1288.5 L302.6,1281.5 L312.1,1274.5 L321.6,1267.5 L331.2,1260.5 L340.7,1253.4 L350.2,1246.4 L359.8,1239.4 L369.3,1232.4" fill="none" stroke="#142406" stroke-width="0.9" stroke-opacity="0.9"/>
<polygon points="280,1306.5 372.7,1233.7 332.4,1283.5" fill="#46520a" opacity="0.8"/>
<line x1="286.6" y1="1303.6" x2="372.7" y2="1233.7" fill="none" stroke="#142406" stroke-width="0.9" stroke-opacity="0.9"/>
<line x1="293.1" y1="1300.8" x2="372.7" y2="1233.7" fill="none" stroke="#142406" stroke-width="0.9" stroke-opacity="0.9"/>
<line x1="299.6" y1="1297.9" x2="372.7" y2="1233.7" fill="none" stroke="#142406" stroke-width="0.9" stroke-opacity="0.9"/>
<line x1="306.2" y1="1295.0" x2="372.7" y2="1233.7" fill="none" stroke="#142406" stroke-width="0.9" stroke-opacity="0.9"/>
<line x1="312.8" y1="1292.1" x2="372.7" y2="1233.7" fill="none" stroke="#142406" stroke-width="0.9" stroke-opacity="0.9"/>
<line x1="319.3" y1="1289.2" x2="372.7" y2="1233.7" fill="none" stroke="#142406" stroke-width="0.9" stroke-opacity="0.9"/>
<line x1="325.8" y1="1286.4" x2="372.7" y2="1233.7" fill="none" stroke="#142406" stroke-width="0.9" stroke-opacity="0.9"/>
</g>
<polygon points="246.6,1278.7 345.5,1223.0 363.2,1229.0 372.7,1233.7 332.4,1283.5 277.9,1306.0" fill="none" stroke="#283008" stroke-width="0.9"/>
<polygon points="372.7,1233.7 400.0,1212.4 431.0,1188.5 449.3,1194.7 505.0,1234.0 560.2,1274.5 592.8,1326.7 527.6,1297.3 472.0,1279.0 367.3,1332.0 332.4,1283.5" fill="url(#gcG)"/>
<clipPath id="rclip"><polygon points="372.7,1233.7 400.0,1212.4 431.0,1188.5 449.3,1194.7 505.0,1234.0 560.2,1274.5 592.8,1326.7 527.6,1297.3 472.0,1279.0 367.3,1332.0 332.4,1283.5"/></clipPath>
<g clip-path="url(#rclip)">
<path d="M341.4,1274.9 L344.9,1280.1 L348.5,1285.3 L352.0,1290.6 L355.5,1295.8 L359.1,1301.0 L362.6,1306.3 L366.2,1311.5 L369.7,1316.7 L373.3,1321.9 L376.8,1327.2" fill="none" stroke="#142406" stroke-width="0.9" stroke-opacity="0.9"/>
<path d="M350.3,1266.2 L353.9,1271.8 L357.5,1277.5 L361.1,1283.1 L364.7,1288.7 L368.3,1294.3 L371.9,1299.9 L375.5,1305.5 L379.1,1311.1 L382.7,1316.8 L386.3,1322.4" fill="none" stroke="#142406" stroke-width="0.9" stroke-opacity="0.9"/>
<path d="M359.3,1257.6 L362.9,1263.6 L366.6,1269.6 L370.3,1275.6 L373.9,1281.6 L377.6,1287.6 L381.2,1293.6 L384.9,1299.6 L388.5,1305.6 L392.2,1311.5 L395.9,1317.5" fill="none" stroke="#142406" stroke-width="0.9" stroke-opacity="0.9"/>
<path d="M368.3,1249.0 L372.0,1255.3 L375.7,1261.7 L379.4,1268.1 L383.1,1274.5 L386.8,1280.8 L390.5,1287.2 L394.2,1293.6 L397.9,1300.0 L401.7,1306.3 L405.4,1312.7" fill="none" stroke="#142406" stroke-width="0.9" stroke-opacity="0.9"/>
<path d="M377.2,1240.3 L381.0,1247.1 L384.8,1253.8 L388.5,1260.6 L392.3,1267.4 L396.1,1274.1 L399.8,1280.9 L403.6,1287.6 L407.4,1294.4 L411.1,1301.1 L414.9,1307.9" fill="none" stroke="#142406" stroke-width="0.9" stroke-opacity="0.9"/>
<path d="M386.2,1231.7 L390.0,1238.8 L393.8,1246.0 L397.6,1253.1 L401.5,1260.2 L405.3,1267.4 L409.1,1274.5 L412.9,1281.7 L416.8,1288.8 L420.6,1296.0 L424.4,1303.1" fill="none" stroke="#142406" stroke-width="0.9" stroke-opacity="0.9"/>
<path d="M395.1,1223.0 L399.0,1230.6 L402.9,1238.1 L406.8,1245.6 L410.7,1253.1 L414.5,1260.7 L418.4,1268.2 L422.3,1275.7 L426.2,1283.2 L430.0,1290.8 L433.9,1298.3" fill="none" stroke="#142406" stroke-width="0.9" stroke-opacity="0.9"/>
<path d="M404.1,1214.4 L408.0,1222.3 L412.0,1230.2 L415.9,1238.1 L419.8,1246.0 L423.8,1253.9 L427.7,1261.8 L431.6,1269.7 L435.6,1277.6 L439.5,1285.5 L443.4,1293.5" fill="none" stroke="#142406" stroke-width="0.9" stroke-opacity="0.9"/>
<path d="M413.1,1205.8 L417.1,1214.1 L421.1,1222.3 L425.0,1230.6 L429.0,1238.9 L433.0,1247.2 L437.0,1255.5 L441.0,1263.8 L445.0,1272.1 L449.0,1280.4 L453.0,1288.6" fill="none" stroke="#142406" stroke-width="0.9" stroke-opacity="0.9"/>
<path d="M422.0,1197.1 L426.1,1205.8 L430.1,1214.5 L434.2,1223.1 L438.2,1231.8 L442.3,1240.5 L446.3,1249.1 L450.3,1257.8 L454.4,1266.5 L458.4,1275.1 L462.5,1283.8" fill="none" stroke="#142406" stroke-width="0.9" stroke-opacity="0.9"/>
<path d="M335.6,1287.9 L345.5,1278.8 L355.4,1269.7 L365.3,1260.6 L375.2,1251.4 L385.1,1242.3 L395.1,1233.2 L405.0,1224.1 L414.9,1215.0 L424.8,1205.8 L434.7,1196.7" fill="none" stroke="#142406" stroke-width="0.9" stroke-opacity="0.9"/>
<path d="M338.7,1292.3 L348.7,1283.6 L358.7,1274.8 L368.7,1266.1 L378.6,1257.4 L388.6,1248.6 L398.6,1239.9 L408.5,1231.2 L418.5,1222.4 L428.5,1213.7 L438.5,1205.0" fill="none" stroke="#142406" stroke-width="0.9" stroke-opacity="0.9"/>
<path d="M341.9,1296.7 L351.9,1288.4 L362.0,1280.0 L372.0,1271.7 L382.0,1263.3 L392.1,1255.0 L402.1,1246.6 L412.1,1238.2 L422.1,1229.9 L432.2,1221.5 L442.2,1213.2" fill="none" stroke="#142406" stroke-width="0.9" stroke-opacity="0.9"/>
<path d="M345.1,1301.1 L355.2,1293.2 L365.3,1285.2 L375.3,1277.2 L385.4,1269.2 L395.5,1261.3 L405.6,1253.3 L415.7,1245.3 L425.7,1237.4 L435.8,1229.4 L445.9,1221.4" fill="none" stroke="#142406" stroke-width="0.9" stroke-opacity="0.9"/>
<path d="M348.3,1305.5 L358.4,1298.0 L368.5,1290.4 L378.7,1282.8 L388.8,1275.2 L398.9,1267.6 L409.1,1260.0 L419.2,1252.4 L429.4,1244.8 L439.5,1237.2 L449.6,1229.6" fill="none" stroke="#142406" stroke-width="0.9" stroke-opacity="0.9"/>
<path d="M351.4,1310.0 L361.6,1302.7 L371.8,1295.5 L382.0,1288.3 L392.2,1281.1 L402.4,1273.9 L412.6,1266.7 L422.8,1259.5 L433.0,1252.3 L443.2,1245.1 L453.4,1237.9" fill="none" stroke="#142406" stroke-width="0.9" stroke-opacity="0.9"/>
<path d="M354.6,1314.4 L364.9,1307.5 L375.1,1300.7 L385.4,1293.9 L395.6,1287.1 L405.9,1280.2 L416.1,1273.4 L426.3,1266.6 L436.6,1259.7 L446.8,1252.9 L457.1,1246.1" fill="none" stroke="#142406" stroke-width="0.9" stroke-opacity="0.9"/>
<path d="M357.8,1318.8 L368.1,1312.3 L378.4,1305.9 L388.7,1299.4 L399.0,1293.0 L409.3,1286.5 L419.6,1280.1 L429.9,1273.7 L440.2,1267.2 L450.5,1260.8 L460.8,1254.3" fill="none" stroke="#142406" stroke-width="0.9" stroke-opacity="0.9"/>
<path d="M361.0,1323.2 L371.3,1317.1 L381.7,1311.1 L392.0,1305.0 L402.4,1298.9 L412.8,1292.9 L423.1,1286.8 L433.5,1280.7 L443.8,1274.7 L454.2,1268.6 L464.5,1262.5" fill="none" stroke="#142406" stroke-width="0.9" stroke-opacity="0.9"/>
<path d="M364.1,1327.6 L374.5,1321.9 L385.0,1316.2 L395.4,1310.5 L405.8,1304.9 L416.2,1299.2 L426.6,1293.5 L437.0,1287.8 L447.4,1282.1 L457.9,1276.5 L468.3,1270.8" fill="none" stroke="#142406" stroke-width="0.9" stroke-opacity="0.9"/>
<path d="M440.9,1195.1 L445.0,1203.9 L449.0,1212.6 L453.0,1221.4 L457.1,1230.1 L461.1,1238.9 L465.2,1247.6 L469.2,1256.4 L473.2,1265.2 L477.3,1273.9 L481.3,1282.7" fill="none" stroke="#142406" stroke-width="0.9" stroke-opacity="0.9"/>
<path d="M450.9,1201.7 L454.8,1210.2 L458.8,1218.7 L462.8,1227.1 L466.8,1235.6 L470.7,1244.0 L474.7,1252.5 L478.7,1261.0 L482.6,1269.4 L486.6,1277.9 L490.6,1286.3" fill="none" stroke="#142406" stroke-width="0.9" stroke-opacity="0.9"/>
<path d="M460.8,1208.3 L464.7,1216.5 L468.6,1224.7 L472.5,1232.8 L476.4,1241.0 L480.3,1249.2 L484.3,1257.3 L488.2,1265.5 L492.1,1273.7 L496.0,1281.8 L499.9,1290.0" fill="none" stroke="#142406" stroke-width="0.9" stroke-opacity="0.9"/>
<path d="M470.8,1215.0 L474.6,1222.8 L478.4,1230.7 L482.3,1238.6 L486.1,1246.4 L490.0,1254.3 L493.8,1262.2 L497.6,1270.1 L501.5,1277.9 L505.3,1285.8 L509.2,1293.7" fill="none" stroke="#142406" stroke-width="0.9" stroke-opacity="0.9"/>
<path d="M480.7,1221.6 L484.5,1229.2 L488.2,1236.7 L492.0,1244.3 L495.8,1251.9 L499.6,1259.5 L503.4,1267.0 L507.1,1274.6 L510.9,1282.2 L514.7,1289.8 L518.5,1297.3" fill="none" stroke="#142406" stroke-width="0.9" stroke-opacity="0.9"/>
<path d="M490.6,1228.2 L494.3,1235.5 L498.1,1242.8 L501.8,1250.0 L505.5,1257.3 L509.2,1264.6 L512.9,1271.9 L516.6,1279.2 L520.3,1286.5 L524.0,1293.7 L527.8,1301.0" fill="none" stroke="#142406" stroke-width="0.9" stroke-opacity="0.9"/>
<path d="M500.6,1234.8 L504.2,1241.8 L507.9,1248.8 L511.5,1255.8 L515.2,1262.8 L518.8,1269.7 L522.5,1276.7 L526.1,1283.7 L529.8,1290.7 L533.4,1297.7 L537.0,1304.7" fill="none" stroke="#142406" stroke-width="0.9" stroke-opacity="0.9"/>
<path d="M510.5,1241.4 L514.1,1248.1 L517.7,1254.8 L521.3,1261.5 L524.8,1268.2 L528.4,1274.9 L532.0,1281.6 L535.6,1288.3 L539.2,1295.0 L542.8,1301.7 L546.3,1308.4" fill="none" stroke="#142406" stroke-width="0.9" stroke-opacity="0.9"/>
<path d="M520.4,1248.0 L524.0,1254.4 L527.5,1260.8 L531.0,1267.2 L534.5,1273.6 L538.0,1280.0 L541.6,1286.4 L545.1,1292.8 L548.6,1299.2 L552.1,1305.6 L555.6,1312.0" fill="none" stroke="#142406" stroke-width="0.9" stroke-opacity="0.9"/>
<path d="M530.4,1254.7 L533.8,1260.8 L537.3,1266.9 L540.7,1273.0 L544.2,1279.1 L547.7,1285.2 L551.1,1291.3 L554.6,1297.4 L558.0,1303.5 L561.5,1309.6 L564.9,1315.7" fill="none" stroke="#142406" stroke-width="0.9" stroke-opacity="0.9"/>
<path d="M540.3,1261.3 L543.7,1267.1 L547.1,1272.9 L550.5,1278.7 L553.9,1284.5 L557.3,1290.3 L560.7,1296.1 L564.0,1301.9 L567.4,1307.7 L570.8,1313.6 L574.2,1319.4" fill="none" stroke="#142406" stroke-width="0.9" stroke-opacity="0.9"/>
<path d="M550.3,1267.9 L553.6,1273.4 L556.9,1278.9 L560.2,1284.4 L563.6,1289.9 L566.9,1295.5 L570.2,1301.0 L573.5,1306.5 L576.9,1312.0 L580.2,1317.5 L583.5,1323.0" fill="none" stroke="#142406" stroke-width="0.9" stroke-opacity="0.9"/>
<path d="M435.6,1198.6 L448.4,1206.7 L461.2,1214.9 L474.0,1223.1 L486.9,1231.3 L499.7,1239.4 L512.5,1247.6 L525.3,1255.8 L538.2,1264.0 L551.0,1272.1 L563.8,1280.3" fill="none" stroke="#142406" stroke-width="0.9" stroke-opacity="0.9"/>
<path d="M440.1,1208.6 L452.8,1216.4 L465.6,1224.1 L478.3,1231.9 L491.0,1239.6 L503.8,1247.4 L516.5,1255.1 L529.2,1262.9 L542.0,1270.6 L554.7,1278.4 L567.4,1286.1" fill="none" stroke="#142406" stroke-width="0.9" stroke-opacity="0.9"/>
<path d="M444.7,1218.7 L457.3,1226.0 L469.9,1233.3 L482.6,1240.6 L495.2,1248.0 L507.9,1255.3 L520.5,1262.6 L533.1,1269.9 L545.8,1277.3 L558.4,1284.6 L571.1,1291.9" fill="none" stroke="#142406" stroke-width="0.9" stroke-opacity="0.9"/>
<path d="M449.2,1228.7 L461.8,1235.6 L474.3,1242.5 L486.9,1249.4 L499.4,1256.3 L512.0,1263.2 L524.5,1270.1 L537.0,1277.0 L549.6,1283.9 L562.1,1290.8 L574.7,1297.7" fill="none" stroke="#142406" stroke-width="0.9" stroke-opacity="0.9"/>
<path d="M453.8,1238.8 L466.2,1245.2 L478.7,1251.7 L491.1,1258.2 L503.6,1264.7 L516.0,1271.1 L528.5,1277.6 L541.0,1284.1 L553.4,1290.6 L565.9,1297.0 L578.3,1303.5" fill="none" stroke="#142406" stroke-width="0.9" stroke-opacity="0.9"/>
<path d="M458.3,1248.8 L470.7,1254.9 L483.1,1260.9 L495.4,1267.0 L507.8,1273.0 L520.1,1279.1 L532.5,1285.1 L544.9,1291.2 L557.2,1297.2 L569.6,1303.3 L581.9,1309.3" fill="none" stroke="#142406" stroke-width="0.9" stroke-opacity="0.9"/>
<path d="M462.9,1258.9 L475.2,1264.5 L487.4,1270.1 L499.7,1275.8 L512.0,1281.4 L524.2,1287.0 L536.5,1292.6 L548.8,1298.2 L561.0,1303.9 L573.3,1309.5 L585.6,1315.1" fill="none" stroke="#142406" stroke-width="0.9" stroke-opacity="0.9"/>
<path d="M467.4,1268.9 L479.6,1274.1 L491.8,1279.3 L504.0,1284.5 L516.1,1289.7 L528.3,1294.9 L540.5,1300.1 L552.7,1305.3 L564.8,1310.5 L577.0,1315.7 L589.2,1320.9" fill="none" stroke="#142406" stroke-width="0.9" stroke-opacity="0.9"/>
</g>
<polygon points="372.7,1233.7 400.0,1212.4 431.0,1188.5 449.3,1194.7 505.0,1234.0 560.2,1274.5 592.8,1326.7 527.6,1297.3 472.0,1279.0 367.3,1332.0 332.4,1283.5" fill="none" stroke="#283008" stroke-width="0.9"/>
<line x1="431" y1="1188.5" x2="472" y2="1279" stroke="#183008" stroke-width="1"/>
<text transform="translate(382,1337) rotate(-24.5)" font-family="Liberation Serif" font-weight="bold" font-size="19" stroke="#000" stroke-width="0.3">ground state</text>
<circle cx="429.5" cy="1180.5" r="17.8" fill="none" stroke="#e01818" stroke-width="3.2"/>
<text x="457.8" y="1192.8" font-family="Liberation Serif" font-weight="bold" font-size="19.8" fill="#e01818" stroke="#e01818" stroke-width="0.3">state 4 (CI)</text>
</g>
</svg>
</body></html>
